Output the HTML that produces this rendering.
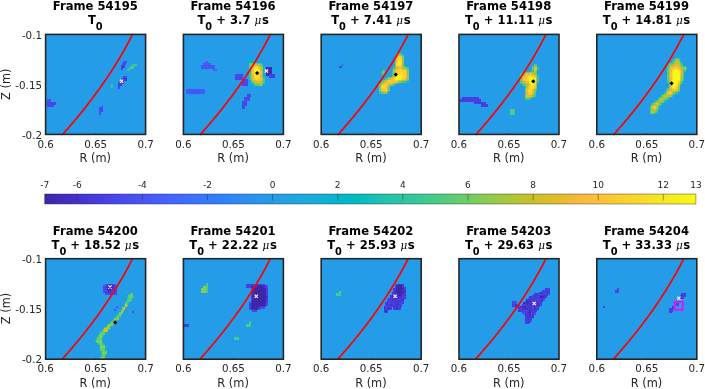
<!DOCTYPE html>
<html><head><meta charset="utf-8"><title>Frames</title>
<style>
html,body{margin:0;padding:0;background:#fff;}
body{width:705px;height:389px;overflow:hidden;}
svg{display:block;}
text{font-family:"DejaVu Sans","Liberation Sans",sans-serif;fill:#262626;text-anchor:middle;}
.t{font-weight:bold;font-size:11.6px;fill:#000;}
.k{font-size:10.3px;}
.e{text-anchor:end;}
.l{font-size:11.4px;}
.c{font-size:9px;}
.mu{font-size:10.4px;font-family:"DejaVu Serif","Liberation Serif",serif;font-style:italic;font-weight:normal;}
</style></head><body>
<svg width="705" height="389" viewBox="0 0 705 389">
<defs><linearGradient id="cb" x1="0" x2="1" y1="0" y2="0">
<stop offset="0.0000" stop-color="#3e26a8"/>
<stop offset="0.0159" stop-color="#402ab4"/>
<stop offset="0.0317" stop-color="#422ec0"/>
<stop offset="0.0476" stop-color="#4332cb"/>
<stop offset="0.0635" stop-color="#4537d5"/>
<stop offset="0.0794" stop-color="#463cde"/>
<stop offset="0.0952" stop-color="#4741e5"/>
<stop offset="0.1111" stop-color="#4747eb"/>
<stop offset="0.1270" stop-color="#484df0"/>
<stop offset="0.1429" stop-color="#4852f4"/>
<stop offset="0.1587" stop-color="#4758f8"/>
<stop offset="0.1746" stop-color="#465efb"/>
<stop offset="0.1905" stop-color="#4563fd"/>
<stop offset="0.2063" stop-color="#4269fe"/>
<stop offset="0.2222" stop-color="#3e6fff"/>
<stop offset="0.2381" stop-color="#3875fe"/>
<stop offset="0.2540" stop-color="#327cfc"/>
<stop offset="0.2698" stop-color="#2f81fa"/>
<stop offset="0.2857" stop-color="#2e87f7"/>
<stop offset="0.3016" stop-color="#2d8cf3"/>
<stop offset="0.3175" stop-color="#2b91ef"/>
<stop offset="0.3333" stop-color="#2797eb"/>
<stop offset="0.3492" stop-color="#259be8"/>
<stop offset="0.3651" stop-color="#23a0e5"/>
<stop offset="0.3810" stop-color="#20a5e3"/>
<stop offset="0.3968" stop-color="#1ca9df"/>
<stop offset="0.4127" stop-color="#18addb"/>
<stop offset="0.4286" stop-color="#12b1d6"/>
<stop offset="0.4444" stop-color="#08b5d0"/>
<stop offset="0.4603" stop-color="#01b8ca"/>
<stop offset="0.4762" stop-color="#02bac3"/>
<stop offset="0.4921" stop-color="#0bbdbd"/>
<stop offset="0.5079" stop-color="#19bfb6"/>
<stop offset="0.5238" stop-color="#24c1ae"/>
<stop offset="0.5397" stop-color="#2cc4a7"/>
<stop offset="0.5556" stop-color="#31c69f"/>
<stop offset="0.5714" stop-color="#37c897"/>
<stop offset="0.5873" stop-color="#3fca8e"/>
<stop offset="0.6032" stop-color="#4acb84"/>
<stop offset="0.6190" stop-color="#57cc7a"/>
<stop offset="0.6349" stop-color="#64cd6f"/>
<stop offset="0.6508" stop-color="#72cd64"/>
<stop offset="0.6667" stop-color="#81cc59"/>
<stop offset="0.6825" stop-color="#8fcb4e"/>
<stop offset="0.6984" stop-color="#9dc943"/>
<stop offset="0.7143" stop-color="#abc739"/>
<stop offset="0.7302" stop-color="#b9c431"/>
<stop offset="0.7460" stop-color="#c5c22a"/>
<stop offset="0.7619" stop-color="#d1bf27"/>
<stop offset="0.7778" stop-color="#dcbd29"/>
<stop offset="0.7937" stop-color="#e6bb2d"/>
<stop offset="0.8095" stop-color="#f0ba36"/>
<stop offset="0.8254" stop-color="#f8ba3d"/>
<stop offset="0.8413" stop-color="#febe3c"/>
<stop offset="0.8571" stop-color="#fec338"/>
<stop offset="0.8730" stop-color="#fec934"/>
<stop offset="0.8889" stop-color="#fccf30"/>
<stop offset="0.9048" stop-color="#fad62d"/>
<stop offset="0.9206" stop-color="#f7dc2a"/>
<stop offset="0.9365" stop-color="#f5e327"/>
<stop offset="0.9524" stop-color="#f5e924"/>
<stop offset="0.9683" stop-color="#f6ef20"/>
<stop offset="0.9841" stop-color="#f7f51b"/>
<stop offset="1.0000" stop-color="#f9fb15"/>
</linearGradient><filter id="bl" x="-5%" y="-5%" width="110%" height="110%"><feGaussianBlur stdDeviation="0.35"/></filter>
</defs>
<rect width="705" height="389" fill="#fff"/>
<text x="95.30000000000001" y="9.899999999999999" class="t">Frame 54195</text>
<text x="95.30000000000001" y="23.9" class="t">T<tspan dy="6" font-size="9.8">0</tspan></text>
<g>
<rect x="45.6" y="34.4" width="100" height="100.0" fill="#259ce7"/>
<g filter="url(#bl)" shape-rendering="crispEdges">
<rect x="122.8" y="61.4" width="4.2" height="1.9" fill="#4850f2"/>
<rect x="121.6" y="63.3" width="4.1" height="2.0" fill="#4747eb"/>
<rect x="120.6" y="65.3" width="4.1" height="3.1" fill="#463ee1"/>
<rect x="120.6" y="68.4" width="2.2" height="2.0" fill="#4747eb"/>
<rect x="123" y="76" width="4" height="2.1" fill="#4747eb"/>
<rect x="122" y="78.1" width="5" height="2.6" fill="#4536d3"/>
<rect x="119.5" y="80.7" width="4.5" height="3.1" fill="#4536d3"/>
<rect x="118" y="82.3" width="3.6" height="4.1" fill="#463ee1"/>
<rect x="118" y="86.4" width="2" height="2.5" fill="#4747eb"/>
<rect x="46.5" y="99.2" width="4.5" height="2.4" fill="#4850f2"/>
<rect x="46.5" y="101.6" width="9.5" height="2.9" fill="#4747eb"/>
<rect x="46.5" y="104.5" width="7.2" height="2.5" fill="#4747eb"/>
<rect x="101.6" y="104.5" width="1.8" height="2.5" fill="#4850f2"/>
<rect x="99.3" y="107" width="3.7" height="5" fill="#4747eb"/>
<rect x="99.3" y="112" width="1.7" height="2.6" fill="#4850f2"/>
<rect x="113.4" y="79" width="2.0" height="1.7" fill="#02bac4"/>
<rect x="132" y="79" width="4.5" height="1.7" fill="#02bac4"/>
<rect x="127.3" y="69.4" width="3.0" height="1.6" fill="#2fc5a2"/>
<rect x="110.8" y="84.3" width="2.1" height="4.1" fill="#2fc5a2"/>
<rect x="132.4" y="64.0" width="4.1" height="1.8" fill="#39c895"/>
<rect x="128.3" y="67.6" width="6.1" height="1.8" fill="#39c895"/>
<rect x="130.3" y="65.8" width="4.1" height="1.8" fill="#48cb86"/>
</g>
</g>
<path d="M132.64 34.20 L130.67 38.08 L128.63 41.95 L126.54 45.83 L124.38 49.71 L122.17 53.58 L119.90 57.46 L117.57 61.34 L115.18 65.22 L112.74 69.09 L110.23 72.97 L107.66 76.85 L105.04 80.72 L102.36 84.60 L99.61 88.48 L96.81 92.35 L93.95 96.23 L91.03 100.11 L88.06 103.98 L85.02 107.86 L81.92 111.74 L78.77 115.62 L75.56 119.49 L72.28 123.37 L68.95 127.25 L65.56 131.12 L62.11 135.00" fill="none" stroke="#ff0000" stroke-width="1.7"/>
<path d="M120.0 79.7L123.19999999999999 82.89999999999999M120.0 82.89999999999999L123.19999999999999 79.7" stroke="#fff" stroke-width="1.1"/>
<rect x="45.6" y="34.4" width="100" height="100.0" fill="none" stroke="#262626" stroke-width="1.6"/>
<path d="M95.6 133.9v-1.1" stroke="#262626" stroke-width="0.7" stroke-opacity="0.7"/>
<text x="45.6" y="147.9" class="k">0.6</text>
<text x="95.6" y="147.9" class="k">0.65</text>
<text x="145.6" y="147.9" class="k">0.7</text>
<text x="95.30000000000001" y="162.0" class="l">R (m)</text>
<text x="42.0" y="38.8" class="k e">-0.1</text>
<text x="42.0" y="88.80000000000001" class="k e">-0.15</text>
<text x="42.0" y="138.8" class="k e">-0.2</text>
<text transform="translate(9.6,84.19999999999999) rotate(-90)" class="l">Z (m)</text>
<text x="233.10000000000002" y="9.899999999999999" class="t">Frame 54196</text>
<text x="233.10000000000002" y="23.9" class="t">T<tspan dy="6" font-size="9.8">0</tspan><tspan dy="-6"> + 3.7 </tspan><tspan class="mu">μ</tspan><tspan dx="0.6">s</tspan></text>
<g>
<rect x="183.4" y="34.4" width="100" height="100.0" fill="#259ce7"/>
<g filter="url(#bl)" shape-rendering="crispEdges">
<rect x="265.8" y="66.5" width="6.2" height="9.2" fill="#3f29b0"/>
<rect x="269" y="73.7" width="6" height="4.1" fill="#463ee1"/>
<rect x="234.7" y="74.2" width="8.3" height="5.3" fill="#4747eb"/>
<rect x="242.2" y="79.3" width="6.2" height="6.2" fill="#4747eb"/>
<rect x="205.4" y="61.1" width="2.3" height="2.0" fill="#465ffb"/>
<rect x="203" y="63.1" width="7.8" height="2.3" fill="#4758f8"/>
<rect x="201.2" y="65.4" width="13.4" height="3.1" fill="#4758f8"/>
<rect x="213" y="68.5" width="4" height="2.3" fill="#465ffb"/>
<rect x="186.4" y="89.3" width="19.0" height="4.7" fill="#475af9"/>
<rect x="190" y="90" width="10" height="3" fill="#4853f5"/>
<rect x="246.6" y="94.3" width="3.9" height="3.1" fill="#4747eb"/>
<rect x="244.3" y="97.4" width="5.4" height="3.8" fill="#4747eb"/>
<rect x="242.3" y="101.2" width="5.1" height="4.6" fill="#4747eb"/>
<rect x="242.3" y="105.8" width="2.7" height="3.2" fill="#4747eb"/>
<rect x="246.3" y="58.7" width="7.2" height="4.2" fill="#05b6ce"/>
<rect x="253.71" y="60.96" width="1.57" height="1.56" fill="#2fc5a2"/>
<rect x="249.03" y="70.34" width="1.56" height="1.56" fill="#2fc5a2"/>
<rect x="249.03" y="73.46" width="1.56" height="1.57" fill="#2fc5a2"/>
<rect x="249.03" y="76.59" width="1.56" height="1.56" fill="#2fc5a2"/>
<rect x="263.09" y="76.59" width="1.56" height="1.56" fill="#2fc5a2"/>
<rect x="249.03" y="78.15" width="1.56" height="1.56" fill="#2fc5a2"/>
<rect x="250.59" y="81.28" width="1.56" height="1.56" fill="#2fc5a2"/>
<rect x="252.15" y="82.84" width="1.56" height="1.56" fill="#2fc5a2"/>
<rect x="253.71" y="84.4" width="1.57" height="1.56" fill="#2fc5a2"/>
<rect x="259.96" y="62.52" width="1.56" height="1.57" fill="#39c895"/>
<rect x="261.52" y="64.09" width="1.57" height="1.56" fill="#39c895"/>
<rect x="249.03" y="71.9" width="1.56" height="1.56" fill="#39c895"/>
<rect x="263.09" y="79.71" width="1.56" height="1.57" fill="#39c895"/>
<rect x="263.09" y="81.28" width="1.56" height="1.56" fill="#39c895"/>
<rect x="263.09" y="82.84" width="1.56" height="1.56" fill="#39c895"/>
<rect x="249.03" y="62.52" width="3.12" height="1.57" fill="#48cb86"/>
<rect x="256.84" y="62.52" width="3.12" height="1.57" fill="#48cb86"/>
<rect x="261.52" y="65.65" width="1.57" height="1.56" fill="#48cb86"/>
<rect x="249.03" y="67.21" width="1.56" height="1.57" fill="#48cb86"/>
<rect x="249.03" y="68.78" width="1.56" height="1.56" fill="#48cb86"/>
<rect x="249.03" y="75.03" width="1.56" height="1.56" fill="#48cb86"/>
<rect x="263.09" y="78.15" width="1.56" height="1.56" fill="#48cb86"/>
<rect x="253.71" y="82.84" width="1.57" height="1.56" fill="#48cb86"/>
<rect x="255.28" y="84.4" width="1.56" height="1.56" fill="#48cb86"/>
<rect x="261.52" y="84.4" width="1.57" height="1.56" fill="#48cb86"/>
<rect x="252.15" y="62.52" width="3.13" height="1.57" fill="#5ccc76"/>
<rect x="249.03" y="64.09" width="1.56" height="1.56" fill="#5ccc76"/>
<rect x="259.96" y="64.09" width="1.56" height="1.56" fill="#5ccc76"/>
<rect x="250.59" y="79.71" width="1.56" height="1.57" fill="#5ccc76"/>
<rect x="252.15" y="81.28" width="1.56" height="1.56" fill="#5ccc76"/>
<rect x="256.84" y="84.4" width="3.12" height="1.56" fill="#5ccc76"/>
<rect x="255.28" y="62.52" width="1.56" height="1.57" fill="#71cd64"/>
<rect x="249.03" y="65.65" width="1.56" height="1.56" fill="#71cd64"/>
<rect x="261.52" y="68.78" width="1.57" height="1.56" fill="#71cd64"/>
<rect x="261.52" y="73.46" width="1.57" height="1.57" fill="#71cd64"/>
<rect x="261.52" y="75.03" width="1.57" height="1.56" fill="#71cd64"/>
<rect x="261.52" y="76.59" width="1.57" height="1.56" fill="#71cd64"/>
<rect x="261.52" y="70.34" width="1.57" height="1.56" fill="#88cb53"/>
<rect x="250.59" y="78.15" width="1.56" height="1.56" fill="#88cb53"/>
<rect x="261.52" y="81.28" width="1.57" height="1.56" fill="#88cb53"/>
<rect x="259.96" y="84.4" width="1.56" height="1.56" fill="#88cb53"/>
<rect x="250.59" y="64.09" width="1.56" height="1.56" fill="#9fc942"/>
<rect x="258.4" y="64.09" width="1.56" height="1.56" fill="#9fc942"/>
<rect x="259.96" y="65.65" width="1.56" height="1.56" fill="#9fc942"/>
<rect x="261.52" y="67.21" width="1.57" height="1.57" fill="#9fc942"/>
<rect x="261.52" y="71.9" width="1.57" height="1.56" fill="#9fc942"/>
<rect x="250.59" y="73.46" width="1.56" height="1.57" fill="#9fc942"/>
<rect x="250.59" y="76.59" width="1.56" height="1.56" fill="#9fc942"/>
<rect x="261.52" y="78.15" width="1.57" height="1.56" fill="#9fc942"/>
<rect x="253.71" y="81.28" width="1.57" height="1.56" fill="#9fc942"/>
<rect x="255.28" y="82.84" width="1.56" height="1.56" fill="#9fc942"/>
<rect x="259.96" y="82.84" width="3.13" height="1.56" fill="#9fc942"/>
<rect x="252.15" y="64.09" width="1.56" height="1.56" fill="#b4c533"/>
<rect x="256.84" y="64.09" width="1.56" height="1.56" fill="#b4c533"/>
<rect x="250.59" y="65.65" width="1.56" height="1.56" fill="#b4c533"/>
<rect x="259.96" y="67.21" width="1.56" height="1.57" fill="#b4c533"/>
<rect x="250.59" y="68.78" width="1.56" height="1.56" fill="#b4c533"/>
<rect x="250.59" y="70.34" width="1.56" height="1.56" fill="#b4c533"/>
<rect x="250.59" y="71.9" width="1.56" height="1.56" fill="#b4c533"/>
<rect x="250.59" y="75.03" width="1.56" height="1.56" fill="#b4c533"/>
<rect x="252.15" y="79.71" width="1.56" height="1.57" fill="#b4c533"/>
<rect x="261.52" y="79.71" width="1.57" height="1.57" fill="#b4c533"/>
<rect x="256.84" y="82.84" width="1.56" height="1.56" fill="#b4c533"/>
<rect x="253.71" y="64.09" width="3.13" height="1.56" fill="#c8c129"/>
<rect x="253.71" y="79.71" width="1.57" height="1.57" fill="#c8c129"/>
<rect x="255.28" y="81.28" width="1.56" height="1.56" fill="#c8c129"/>
<rect x="258.4" y="82.84" width="1.56" height="1.56" fill="#c8c129"/>
<rect x="250.59" y="67.21" width="1.56" height="1.57" fill="#dabd28"/>
<rect x="259.96" y="68.78" width="1.56" height="1.56" fill="#dabd28"/>
<rect x="252.15" y="75.03" width="1.56" height="1.56" fill="#dabd28"/>
<rect x="259.96" y="75.03" width="1.56" height="1.56" fill="#dabd28"/>
<rect x="256.84" y="81.28" width="4.68" height="1.56" fill="#dabd28"/>
<rect x="258.4" y="65.65" width="1.56" height="1.56" fill="#eaba31"/>
<rect x="259.96" y="70.34" width="1.56" height="1.56" fill="#eaba31"/>
<rect x="259.96" y="76.59" width="1.56" height="1.56" fill="#eaba31"/>
<rect x="252.15" y="78.15" width="1.56" height="1.56" fill="#eaba31"/>
<rect x="259.96" y="79.71" width="1.56" height="1.57" fill="#eaba31"/>
<rect x="252.15" y="65.65" width="3.13" height="1.56" fill="#f8ba3d"/>
<rect x="252.15" y="67.21" width="1.56" height="1.57" fill="#f8ba3d"/>
<rect x="252.15" y="70.34" width="1.56" height="1.56" fill="#f8ba3d"/>
<rect x="259.96" y="71.9" width="1.56" height="1.56" fill="#f8ba3d"/>
<rect x="259.96" y="73.46" width="1.56" height="1.57" fill="#f8ba3d"/>
<rect x="252.15" y="76.59" width="1.56" height="1.56" fill="#f8ba3d"/>
<rect x="253.71" y="78.15" width="1.57" height="1.56" fill="#f8ba3d"/>
<rect x="259.96" y="78.15" width="1.56" height="1.56" fill="#f8ba3d"/>
<rect x="255.28" y="79.71" width="1.56" height="1.57" fill="#f8ba3d"/>
<rect x="258.4" y="79.71" width="1.56" height="1.57" fill="#f8ba3d"/>
<rect x="255.28" y="65.65" width="3.12" height="1.56" fill="#fec13a"/>
<rect x="258.4" y="67.21" width="1.56" height="1.57" fill="#fec13a"/>
<rect x="252.15" y="68.78" width="1.56" height="1.56" fill="#fec13a"/>
<rect x="256.84" y="79.71" width="1.56" height="1.57" fill="#fec13a"/>
<rect x="252.15" y="71.9" width="1.56" height="1.56" fill="#feca33"/>
<rect x="252.15" y="73.46" width="1.56" height="1.57" fill="#feca33"/>
<rect x="258.4" y="78.15" width="1.56" height="1.56" fill="#feca33"/>
<rect x="253.71" y="67.21" width="1.57" height="1.57" fill="#fad42e"/>
<rect x="253.71" y="73.46" width="1.57" height="1.57" fill="#fad42e"/>
<rect x="258.4" y="73.46" width="1.56" height="1.57" fill="#fad42e"/>
<rect x="258.4" y="75.03" width="1.56" height="1.56" fill="#fad42e"/>
<rect x="253.71" y="76.59" width="1.57" height="1.56" fill="#fad42e"/>
<rect x="255.28" y="78.15" width="1.56" height="1.56" fill="#fad42e"/>
<rect x="255.28" y="67.21" width="1.56" height="1.57" fill="#f6de29"/>
<rect x="253.71" y="71.9" width="1.57" height="1.56" fill="#f6de29"/>
<rect x="258.4" y="71.9" width="1.56" height="1.56" fill="#f6de29"/>
<rect x="255.28" y="76.59" width="4.68" height="1.56" fill="#f6de29"/>
<rect x="256.84" y="78.15" width="1.56" height="1.56" fill="#f6de29"/>
<rect x="253.71" y="68.78" width="1.57" height="1.56" fill="#f5e825"/>
<rect x="258.4" y="68.78" width="1.56" height="1.56" fill="#f5e825"/>
<rect x="253.71" y="70.34" width="1.57" height="1.56" fill="#f5e825"/>
<rect x="258.4" y="70.34" width="1.56" height="1.56" fill="#f5e825"/>
<rect x="253.71" y="75.03" width="3.13" height="1.56" fill="#f5e825"/>
<rect x="256.84" y="67.21" width="1.56" height="1.57" fill="#f6f21e"/>
<rect x="256.84" y="75.03" width="1.56" height="1.56" fill="#f6f21e"/>
<rect x="255.28" y="68.78" width="3.12" height="1.56" fill="#f9fb15"/>
<rect x="255.28" y="70.34" width="3.12" height="1.56" fill="#f9fb15"/>
<rect x="255.28" y="71.9" width="3.12" height="1.56" fill="#f9fb15"/>
<rect x="255.28" y="73.46" width="3.12" height="1.57" fill="#f9fb15"/>
</g>
</g>
<path d="M270.44 34.20 L268.47 38.08 L266.43 41.95 L264.34 45.83 L262.18 49.71 L259.97 53.58 L257.70 57.46 L255.37 61.34 L252.98 65.22 L250.54 69.09 L248.03 72.97 L245.46 76.85 L242.84 80.72 L240.16 84.60 L237.41 88.48 L234.61 92.35 L231.75 96.23 L228.83 100.11 L225.86 103.98 L222.82 107.86 L219.72 111.74 L216.57 115.62 L213.36 119.49 L210.08 123.37 L206.75 127.25 L203.36 131.12 L199.91 135.00" fill="none" stroke="#ff0000" stroke-width="1.7"/>
<path d="M257.1 71.0L259.20000000000005 73.1L257.1 75.19999999999999L255.00000000000003 73.1Z" fill="#000"/>
<path d="M264.79999999999995 69.5L268.0 72.69999999999999M264.79999999999995 72.69999999999999L268.0 69.5" stroke="#fff" stroke-width="1.1"/>
<rect x="183.4" y="34.4" width="100" height="100.0" fill="none" stroke="#262626" stroke-width="1.6"/>
<path d="M233.4 133.9v-1.1" stroke="#262626" stroke-width="0.7" stroke-opacity="0.7"/>
<text x="183.4" y="147.9" class="k">0.6</text>
<text x="233.4" y="147.9" class="k">0.65</text>
<text x="283.4" y="147.9" class="k">0.7</text>
<text x="233.10000000000002" y="162.0" class="l">R (m)</text>
<text x="370.9" y="9.899999999999999" class="t">Frame 54197</text>
<text x="370.9" y="23.9" class="t">T<tspan dy="6" font-size="9.8">0</tspan><tspan dy="-6"> + 7.41 </tspan><tspan class="mu">μ</tspan><tspan dx="0.6">s</tspan></text>
<g>
<rect x="321.2" y="34.4" width="100" height="100.0" fill="#259ce7"/>
<g filter="url(#bl)" shape-rendering="crispEdges">
<rect x="341.6" y="64" width="1.8" height="1.6" fill="#4747eb"/>
<rect x="339.3" y="65.6" width="2.3" height="2.0" fill="#4747eb"/>
<rect x="396.2" y="53.15" width="1.56" height="1.56" fill="#2fc5a2"/>
<rect x="394.64" y="56.27" width="1.56" height="1.57" fill="#2fc5a2"/>
<rect x="404.01" y="65.65" width="1.56" height="1.56" fill="#2fc5a2"/>
<rect x="383.7" y="70.34" width="1.56" height="1.56" fill="#2fc5a2"/>
<rect x="391.51" y="70.34" width="1.56" height="1.56" fill="#2fc5a2"/>
<rect x="380.57" y="71.9" width="1.57" height="1.56" fill="#2fc5a2"/>
<rect x="391.51" y="71.9" width="1.56" height="1.56" fill="#2fc5a2"/>
<rect x="391.51" y="73.46" width="1.56" height="1.57" fill="#2fc5a2"/>
<rect x="402.45" y="81.28" width="1.56" height="1.56" fill="#2fc5a2"/>
<rect x="405.57" y="81.28" width="1.57" height="1.56" fill="#2fc5a2"/>
<rect x="393.07" y="84.4" width="1.57" height="1.56" fill="#2fc5a2"/>
<rect x="388.39" y="90.65" width="1.56" height="1.56" fill="#2fc5a2"/>
<rect x="379.01" y="92.21" width="1.56" height="1.57" fill="#2fc5a2"/>
<rect x="400.89" y="53.15" width="1.56" height="1.56" fill="#39c895"/>
<rect x="394.64" y="57.84" width="1.56" height="1.56" fill="#39c895"/>
<rect x="394.64" y="59.4" width="1.56" height="1.56" fill="#39c895"/>
<rect x="393.07" y="67.21" width="1.57" height="1.57" fill="#39c895"/>
<rect x="407.14" y="67.21" width="1.56" height="1.57" fill="#39c895"/>
<rect x="391.51" y="75.03" width="1.56" height="1.56" fill="#39c895"/>
<rect x="385.26" y="78.15" width="1.56" height="1.56" fill="#39c895"/>
<rect x="382.14" y="79.71" width="1.56" height="1.57" fill="#39c895"/>
<rect x="407.14" y="79.71" width="1.56" height="1.57" fill="#39c895"/>
<rect x="404.01" y="81.28" width="1.56" height="1.56" fill="#39c895"/>
<rect x="399.32" y="53.15" width="1.57" height="1.56" fill="#48cb86"/>
<rect x="402.45" y="54.71" width="1.56" height="1.56" fill="#48cb86"/>
<rect x="382.14" y="70.34" width="1.56" height="1.56" fill="#48cb86"/>
<rect x="383.7" y="71.9" width="1.56" height="1.56" fill="#48cb86"/>
<rect x="382.14" y="73.46" width="3.12" height="1.57" fill="#48cb86"/>
<rect x="388.39" y="76.59" width="1.56" height="1.56" fill="#48cb86"/>
<rect x="380.57" y="81.28" width="1.57" height="1.56" fill="#48cb86"/>
<rect x="379.01" y="82.84" width="1.56" height="1.56" fill="#48cb86"/>
<rect x="396.2" y="82.84" width="1.56" height="1.56" fill="#48cb86"/>
<rect x="379.01" y="90.65" width="1.56" height="1.56" fill="#48cb86"/>
<rect x="380.57" y="92.21" width="1.57" height="1.57" fill="#48cb86"/>
<rect x="397.76" y="53.15" width="1.56" height="1.56" fill="#5ccc76"/>
<rect x="394.64" y="60.96" width="1.56" height="1.56" fill="#5ccc76"/>
<rect x="407.14" y="68.78" width="1.56" height="1.56" fill="#5ccc76"/>
<rect x="400.89" y="81.28" width="1.56" height="1.56" fill="#5ccc76"/>
<rect x="391.51" y="84.4" width="1.56" height="1.56" fill="#5ccc76"/>
<rect x="388.39" y="85.96" width="1.56" height="1.57" fill="#5ccc76"/>
<rect x="388.39" y="87.53" width="1.56" height="1.56" fill="#5ccc76"/>
<rect x="388.39" y="89.09" width="1.56" height="1.56" fill="#5ccc76"/>
<rect x="382.14" y="92.21" width="1.56" height="1.57" fill="#5ccc76"/>
<rect x="386.82" y="92.21" width="1.57" height="1.57" fill="#5ccc76"/>
<rect x="402.45" y="56.27" width="1.56" height="1.57" fill="#71cd64"/>
<rect x="394.64" y="65.65" width="1.56" height="1.56" fill="#71cd64"/>
<rect x="402.45" y="65.65" width="1.56" height="1.56" fill="#71cd64"/>
<rect x="405.57" y="67.21" width="1.57" height="1.57" fill="#71cd64"/>
<rect x="407.14" y="70.34" width="1.56" height="1.56" fill="#71cd64"/>
<rect x="382.14" y="71.9" width="1.56" height="1.56" fill="#71cd64"/>
<rect x="407.14" y="73.46" width="1.56" height="1.57" fill="#71cd64"/>
<rect x="386.82" y="78.15" width="1.57" height="1.56" fill="#71cd64"/>
<rect x="382.14" y="81.28" width="1.56" height="1.56" fill="#71cd64"/>
<rect x="379.01" y="84.4" width="1.56" height="1.56" fill="#71cd64"/>
<rect x="379.01" y="85.96" width="1.56" height="1.57" fill="#71cd64"/>
<rect x="385.26" y="92.21" width="1.56" height="1.57" fill="#71cd64"/>
<rect x="396.2" y="54.71" width="1.56" height="1.56" fill="#88cb53"/>
<rect x="402.45" y="57.84" width="1.56" height="1.56" fill="#88cb53"/>
<rect x="402.45" y="62.52" width="1.56" height="1.57" fill="#88cb53"/>
<rect x="402.45" y="64.09" width="1.56" height="1.56" fill="#88cb53"/>
<rect x="394.64" y="67.21" width="1.56" height="1.57" fill="#88cb53"/>
<rect x="404.01" y="67.21" width="1.56" height="1.57" fill="#88cb53"/>
<rect x="393.07" y="68.78" width="1.57" height="1.56" fill="#88cb53"/>
<rect x="389.95" y="76.59" width="1.56" height="1.56" fill="#88cb53"/>
<rect x="407.14" y="78.15" width="1.56" height="1.56" fill="#88cb53"/>
<rect x="383.7" y="79.71" width="1.56" height="1.57" fill="#88cb53"/>
<rect x="405.57" y="79.71" width="1.57" height="1.57" fill="#88cb53"/>
<rect x="397.76" y="81.28" width="3.13" height="1.56" fill="#88cb53"/>
<rect x="380.57" y="82.84" width="1.57" height="1.56" fill="#88cb53"/>
<rect x="394.64" y="82.84" width="1.56" height="1.56" fill="#88cb53"/>
<rect x="379.01" y="87.53" width="1.56" height="1.56" fill="#88cb53"/>
<rect x="379.01" y="89.09" width="1.56" height="1.56" fill="#88cb53"/>
<rect x="400.89" y="54.71" width="1.56" height="1.56" fill="#9fc942"/>
<rect x="402.45" y="59.4" width="1.56" height="1.56" fill="#9fc942"/>
<rect x="402.45" y="60.96" width="1.56" height="1.56" fill="#9fc942"/>
<rect x="394.64" y="62.52" width="1.56" height="1.57" fill="#9fc942"/>
<rect x="394.64" y="64.09" width="1.56" height="1.56" fill="#9fc942"/>
<rect x="402.45" y="67.21" width="1.56" height="1.57" fill="#9fc942"/>
<rect x="393.07" y="70.34" width="1.57" height="1.56" fill="#9fc942"/>
<rect x="393.07" y="71.9" width="1.57" height="1.56" fill="#9fc942"/>
<rect x="407.14" y="71.9" width="1.56" height="1.56" fill="#9fc942"/>
<rect x="407.14" y="75.03" width="1.56" height="1.56" fill="#9fc942"/>
<rect x="391.51" y="76.59" width="1.56" height="1.56" fill="#9fc942"/>
<rect x="407.14" y="76.59" width="1.56" height="1.56" fill="#9fc942"/>
<rect x="404.01" y="79.71" width="1.56" height="1.57" fill="#9fc942"/>
<rect x="389.95" y="84.4" width="1.56" height="1.56" fill="#9fc942"/>
<rect x="386.82" y="90.65" width="1.57" height="1.56" fill="#9fc942"/>
<rect x="383.7" y="92.21" width="1.56" height="1.57" fill="#9fc942"/>
<rect x="397.76" y="54.71" width="3.13" height="1.56" fill="#b4c533"/>
<rect x="393.07" y="73.46" width="1.57" height="1.57" fill="#b4c533"/>
<rect x="388.39" y="78.15" width="1.56" height="1.56" fill="#b4c533"/>
<rect x="393.07" y="82.84" width="1.57" height="1.56" fill="#b4c533"/>
<rect x="388.39" y="84.4" width="1.56" height="1.56" fill="#b4c533"/>
<rect x="394.64" y="68.78" width="1.56" height="1.56" fill="#c8c129"/>
<rect x="405.57" y="68.78" width="1.57" height="1.56" fill="#c8c129"/>
<rect x="393.07" y="75.03" width="1.57" height="1.56" fill="#c8c129"/>
<rect x="385.26" y="79.71" width="1.56" height="1.57" fill="#c8c129"/>
<rect x="402.45" y="79.71" width="1.56" height="1.57" fill="#c8c129"/>
<rect x="383.7" y="81.28" width="1.56" height="1.56" fill="#c8c129"/>
<rect x="386.82" y="89.09" width="1.57" height="1.56" fill="#c8c129"/>
<rect x="380.57" y="90.65" width="1.57" height="1.56" fill="#c8c129"/>
<rect x="396.2" y="67.21" width="1.56" height="1.57" fill="#dabd28"/>
<rect x="405.57" y="78.15" width="1.57" height="1.56" fill="#dabd28"/>
<rect x="400.89" y="79.71" width="1.56" height="1.57" fill="#dabd28"/>
<rect x="385.26" y="81.28" width="1.56" height="1.56" fill="#dabd28"/>
<rect x="382.14" y="82.84" width="1.56" height="1.56" fill="#dabd28"/>
<rect x="380.57" y="84.4" width="1.57" height="1.56" fill="#dabd28"/>
<rect x="396.2" y="56.27" width="1.56" height="1.57" fill="#eaba31"/>
<rect x="400.89" y="56.27" width="1.56" height="1.57" fill="#eaba31"/>
<rect x="396.2" y="57.84" width="1.56" height="1.56" fill="#eaba31"/>
<rect x="396.2" y="65.65" width="1.56" height="1.56" fill="#eaba31"/>
<rect x="400.89" y="65.65" width="1.56" height="1.56" fill="#eaba31"/>
<rect x="402.45" y="68.78" width="3.12" height="1.56" fill="#eaba31"/>
<rect x="394.64" y="70.34" width="1.56" height="1.56" fill="#eaba31"/>
<rect x="405.57" y="70.34" width="1.57" height="1.56" fill="#eaba31"/>
<rect x="405.57" y="71.9" width="1.57" height="1.56" fill="#eaba31"/>
<rect x="405.57" y="75.03" width="1.57" height="1.56" fill="#eaba31"/>
<rect x="389.95" y="78.15" width="1.56" height="1.56" fill="#eaba31"/>
<rect x="399.32" y="79.71" width="1.57" height="1.57" fill="#eaba31"/>
<rect x="396.2" y="81.28" width="1.56" height="1.56" fill="#eaba31"/>
<rect x="386.82" y="87.53" width="1.57" height="1.56" fill="#eaba31"/>
<rect x="382.14" y="90.65" width="1.56" height="1.56" fill="#eaba31"/>
<rect x="385.26" y="90.65" width="1.56" height="1.56" fill="#eaba31"/>
<rect x="397.76" y="56.27" width="1.56" height="1.57" fill="#f8ba3d"/>
<rect x="396.2" y="59.4" width="1.56" height="1.56" fill="#f8ba3d"/>
<rect x="397.76" y="67.21" width="4.69" height="1.57" fill="#f8ba3d"/>
<rect x="396.2" y="68.78" width="1.56" height="1.56" fill="#f8ba3d"/>
<rect x="394.64" y="73.46" width="1.56" height="1.57" fill="#f8ba3d"/>
<rect x="405.57" y="73.46" width="1.57" height="1.57" fill="#f8ba3d"/>
<rect x="405.57" y="76.59" width="1.57" height="1.56" fill="#f8ba3d"/>
<rect x="404.01" y="78.15" width="1.56" height="1.56" fill="#f8ba3d"/>
<rect x="386.82" y="81.28" width="1.57" height="1.56" fill="#f8ba3d"/>
<rect x="393.07" y="81.28" width="3.13" height="1.56" fill="#f8ba3d"/>
<rect x="383.7" y="82.84" width="1.56" height="1.56" fill="#f8ba3d"/>
<rect x="389.95" y="82.84" width="3.12" height="1.56" fill="#f8ba3d"/>
<rect x="386.82" y="85.96" width="1.57" height="1.57" fill="#f8ba3d"/>
<rect x="380.57" y="87.53" width="1.57" height="1.56" fill="#f8ba3d"/>
<rect x="380.57" y="89.09" width="1.57" height="1.56" fill="#f8ba3d"/>
<rect x="383.7" y="90.65" width="1.56" height="1.56" fill="#f8ba3d"/>
<rect x="396.2" y="60.96" width="1.56" height="1.56" fill="#fec13a"/>
<rect x="399.32" y="65.65" width="1.57" height="1.56" fill="#fec13a"/>
<rect x="394.64" y="71.9" width="3.12" height="1.56" fill="#fec13a"/>
<rect x="393.07" y="76.59" width="1.57" height="1.56" fill="#fec13a"/>
<rect x="391.51" y="78.15" width="1.56" height="1.56" fill="#fec13a"/>
<rect x="386.82" y="79.71" width="1.57" height="1.57" fill="#fec13a"/>
<rect x="388.39" y="81.28" width="1.56" height="1.56" fill="#fec13a"/>
<rect x="385.26" y="82.84" width="4.69" height="1.56" fill="#fec13a"/>
<rect x="382.14" y="84.4" width="1.56" height="1.56" fill="#fec13a"/>
<rect x="386.82" y="84.4" width="1.57" height="1.56" fill="#fec13a"/>
<rect x="380.57" y="85.96" width="1.57" height="1.57" fill="#fec13a"/>
<rect x="385.26" y="85.96" width="1.56" height="1.57" fill="#fec13a"/>
<rect x="385.26" y="87.53" width="1.56" height="1.56" fill="#fec13a"/>
<rect x="382.14" y="89.09" width="3.12" height="1.56" fill="#fec13a"/>
<rect x="399.32" y="56.27" width="1.57" height="1.57" fill="#feca33"/>
<rect x="400.89" y="57.84" width="1.56" height="1.56" fill="#feca33"/>
<rect x="400.89" y="62.52" width="1.56" height="1.57" fill="#feca33"/>
<rect x="400.89" y="64.09" width="1.56" height="1.56" fill="#feca33"/>
<rect x="397.76" y="65.65" width="1.56" height="1.56" fill="#feca33"/>
<rect x="397.76" y="68.78" width="4.69" height="1.56" fill="#feca33"/>
<rect x="397.76" y="70.34" width="1.56" height="1.56" fill="#feca33"/>
<rect x="400.89" y="70.34" width="3.12" height="1.56" fill="#feca33"/>
<rect x="396.2" y="73.46" width="1.56" height="1.57" fill="#feca33"/>
<rect x="394.64" y="75.03" width="1.56" height="1.56" fill="#feca33"/>
<rect x="404.01" y="76.59" width="1.56" height="1.56" fill="#feca33"/>
<rect x="393.07" y="78.15" width="1.57" height="1.56" fill="#feca33"/>
<rect x="388.39" y="79.71" width="3.12" height="1.57" fill="#feca33"/>
<rect x="397.76" y="79.71" width="1.56" height="1.57" fill="#feca33"/>
<rect x="389.95" y="81.28" width="3.12" height="1.56" fill="#feca33"/>
<rect x="382.14" y="87.53" width="1.56" height="1.56" fill="#feca33"/>
<rect x="397.76" y="57.84" width="1.56" height="1.56" fill="#fad42e"/>
<rect x="400.89" y="60.96" width="1.56" height="1.56" fill="#fad42e"/>
<rect x="396.2" y="62.52" width="1.56" height="1.57" fill="#fad42e"/>
<rect x="396.2" y="70.34" width="1.56" height="1.56" fill="#fad42e"/>
<rect x="399.32" y="70.34" width="1.57" height="1.56" fill="#fad42e"/>
<rect x="404.01" y="70.34" width="1.56" height="1.56" fill="#fad42e"/>
<rect x="397.76" y="71.9" width="1.56" height="1.56" fill="#fad42e"/>
<rect x="402.45" y="71.9" width="3.12" height="1.56" fill="#fad42e"/>
<rect x="399.32" y="73.46" width="1.57" height="1.57" fill="#fad42e"/>
<rect x="404.01" y="73.46" width="1.56" height="1.57" fill="#fad42e"/>
<rect x="404.01" y="75.03" width="1.56" height="1.56" fill="#fad42e"/>
<rect x="400.89" y="78.15" width="3.12" height="1.56" fill="#fad42e"/>
<rect x="391.51" y="79.71" width="6.25" height="1.57" fill="#fad42e"/>
<rect x="383.7" y="84.4" width="3.12" height="1.56" fill="#fad42e"/>
<rect x="383.7" y="87.53" width="1.56" height="1.56" fill="#fad42e"/>
<rect x="385.26" y="89.09" width="1.56" height="1.56" fill="#fad42e"/>
<rect x="399.32" y="57.84" width="1.57" height="1.56" fill="#f6de29"/>
<rect x="399.32" y="59.4" width="3.13" height="1.56" fill="#f6de29"/>
<rect x="396.2" y="64.09" width="1.56" height="1.56" fill="#f6de29"/>
<rect x="399.32" y="64.09" width="1.57" height="1.56" fill="#f6de29"/>
<rect x="399.32" y="71.9" width="1.57" height="1.56" fill="#f6de29"/>
<rect x="397.76" y="73.46" width="1.56" height="1.57" fill="#f6de29"/>
<rect x="402.45" y="73.46" width="1.56" height="1.57" fill="#f6de29"/>
<rect x="396.2" y="75.03" width="1.56" height="1.56" fill="#f6de29"/>
<rect x="402.45" y="75.03" width="1.56" height="1.56" fill="#f6de29"/>
<rect x="402.45" y="76.59" width="1.56" height="1.56" fill="#f6de29"/>
<rect x="383.7" y="85.96" width="1.56" height="1.57" fill="#f6de29"/>
<rect x="397.76" y="59.4" width="1.56" height="1.56" fill="#f5e825"/>
<rect x="399.32" y="60.96" width="1.57" height="1.56" fill="#f5e825"/>
<rect x="400.89" y="71.9" width="1.56" height="1.56" fill="#f5e825"/>
<rect x="400.89" y="73.46" width="1.56" height="1.57" fill="#f5e825"/>
<rect x="400.89" y="75.03" width="1.56" height="1.56" fill="#f5e825"/>
<rect x="394.64" y="76.59" width="1.56" height="1.56" fill="#f5e825"/>
<rect x="400.89" y="76.59" width="1.56" height="1.56" fill="#f5e825"/>
<rect x="394.64" y="78.15" width="1.56" height="1.56" fill="#f5e825"/>
<rect x="399.32" y="78.15" width="1.57" height="1.56" fill="#f5e825"/>
<rect x="382.14" y="85.96" width="1.56" height="1.57" fill="#f5e825"/>
<rect x="399.32" y="62.52" width="1.57" height="1.57" fill="#f6f21e"/>
<rect x="399.32" y="75.03" width="1.57" height="1.56" fill="#f6f21e"/>
<rect x="397.76" y="60.96" width="1.56" height="1.56" fill="#f9fb15"/>
<rect x="397.76" y="62.52" width="1.56" height="1.57" fill="#f9fb15"/>
<rect x="397.76" y="64.09" width="1.56" height="1.56" fill="#f9fb15"/>
<rect x="397.76" y="75.03" width="1.56" height="1.56" fill="#f9fb15"/>
<rect x="396.2" y="76.59" width="4.69" height="1.56" fill="#f9fb15"/>
<rect x="396.2" y="78.15" width="3.12" height="1.56" fill="#f9fb15"/>
</g>
</g>
<path d="M408.24 34.20 L406.27 38.08 L404.23 41.95 L402.14 45.83 L399.98 49.71 L397.77 53.58 L395.50 57.46 L393.17 61.34 L390.78 65.22 L388.34 69.09 L385.83 72.97 L383.26 76.85 L380.64 80.72 L377.96 84.60 L375.21 88.48 L372.41 92.35 L369.55 96.23 L366.63 100.11 L363.66 103.98 L360.62 107.86 L357.52 111.74 L354.37 115.62 L351.16 119.49 L347.88 123.37 L344.55 127.25 L341.16 131.12 L337.71 135.00" fill="none" stroke="#ff0000" stroke-width="1.7"/>
<path d="M395.7 72.5L397.8 74.6L395.7 76.69999999999999L393.59999999999997 74.6Z" fill="#000"/>
<rect x="321.2" y="34.4" width="100" height="100.0" fill="none" stroke="#262626" stroke-width="1.6"/>
<path d="M371.2 133.9v-1.1" stroke="#262626" stroke-width="0.7" stroke-opacity="0.7"/>
<text x="321.2" y="147.9" class="k">0.6</text>
<text x="371.2" y="147.9" class="k">0.65</text>
<text x="421.2" y="147.9" class="k">0.7</text>
<text x="370.9" y="162.0" class="l">R (m)</text>
<text x="508.7" y="9.899999999999999" class="t">Frame 54198</text>
<text x="508.7" y="23.9" class="t">T<tspan dy="6" font-size="9.8">0</tspan><tspan dy="-6"> + 11.11 </tspan><tspan class="mu">μ</tspan><tspan dx="0.6">s</tspan></text>
<g>
<rect x="459.0" y="34.4" width="100" height="100.0" fill="#259ce7"/>
<g filter="url(#bl)" shape-rendering="crispEdges">
<rect x="462.1" y="97.1" width="17.0" height="2.3" fill="#463ee1"/>
<rect x="460.3" y="99.4" width="20.8" height="2.2" fill="#463ee1"/>
<rect x="474.4" y="101.6" width="11.3" height="2.7" fill="#463ee1"/>
<rect x="481.4" y="104.3" width="6.9" height="2.5" fill="#463ee1"/>
<rect x="537.12" y="67.21" width="1.57" height="1.57" fill="#2fc5a2"/>
<rect x="537.12" y="68.78" width="1.57" height="1.56" fill="#2fc5a2"/>
<rect x="530.88" y="70.34" width="1.56" height="1.56" fill="#2fc5a2"/>
<rect x="521.5" y="71.9" width="1.56" height="1.56" fill="#2fc5a2"/>
<rect x="537.12" y="75.03" width="1.57" height="1.56" fill="#2fc5a2"/>
<rect x="537.12" y="76.59" width="1.57" height="1.56" fill="#2fc5a2"/>
<rect x="537.12" y="78.15" width="1.57" height="1.56" fill="#2fc5a2"/>
<rect x="537.12" y="81.28" width="1.57" height="1.56" fill="#2fc5a2"/>
<rect x="519.94" y="82.84" width="1.56" height="1.56" fill="#2fc5a2"/>
<rect x="524.62" y="85.96" width="1.57" height="1.57" fill="#2fc5a2"/>
<rect x="535.56" y="89.09" width="1.56" height="1.56" fill="#2fc5a2"/>
<rect x="524.62" y="98.46" width="1.57" height="1.57" fill="#2fc5a2"/>
<rect x="529.31" y="98.46" width="1.57" height="1.57" fill="#2fc5a2"/>
<rect x="532.44" y="65.65" width="1.56" height="1.56" fill="#39c895"/>
<rect x="532.44" y="70.34" width="1.56" height="1.56" fill="#39c895"/>
<rect x="519.94" y="73.46" width="1.56" height="1.57" fill="#39c895"/>
<rect x="537.12" y="79.71" width="1.57" height="1.57" fill="#39c895"/>
<rect x="521.5" y="82.84" width="1.56" height="1.56" fill="#39c895"/>
<rect x="534.0" y="95.34" width="1.56" height="1.56" fill="#39c895"/>
<rect x="532.44" y="96.9" width="1.56" height="1.56" fill="#39c895"/>
<rect x="509.9" y="109.4" width="5.1" height="5.2" fill="#48cb86"/>
<rect x="534.0" y="64.09" width="3.12" height="1.56" fill="#48cb86"/>
<rect x="519.94" y="75.03" width="1.56" height="1.56" fill="#48cb86"/>
<rect x="519.94" y="76.59" width="1.56" height="1.56" fill="#48cb86"/>
<rect x="519.94" y="81.28" width="1.56" height="1.56" fill="#48cb86"/>
<rect x="523.06" y="84.4" width="1.56" height="1.56" fill="#48cb86"/>
<rect x="535.56" y="87.53" width="1.56" height="1.56" fill="#48cb86"/>
<rect x="534.0" y="93.78" width="1.56" height="1.56" fill="#48cb86"/>
<rect x="526.19" y="98.46" width="3.12" height="1.57" fill="#48cb86"/>
<rect x="532.44" y="67.21" width="1.56" height="1.57" fill="#5ccc76"/>
<rect x="532.44" y="68.78" width="1.56" height="1.56" fill="#5ccc76"/>
<rect x="523.06" y="71.9" width="4.69" height="1.56" fill="#5ccc76"/>
<rect x="535.56" y="71.9" width="1.56" height="1.56" fill="#5ccc76"/>
<rect x="535.56" y="73.46" width="1.56" height="1.57" fill="#5ccc76"/>
<rect x="519.94" y="78.15" width="1.56" height="1.56" fill="#5ccc76"/>
<rect x="519.94" y="79.71" width="1.56" height="1.57" fill="#5ccc76"/>
<rect x="524.62" y="84.4" width="1.57" height="1.56" fill="#5ccc76"/>
<rect x="524.62" y="87.53" width="1.57" height="1.56" fill="#5ccc76"/>
<rect x="524.62" y="89.09" width="1.57" height="1.56" fill="#5ccc76"/>
<rect x="524.62" y="92.21" width="1.57" height="1.57" fill="#5ccc76"/>
<rect x="534.0" y="92.21" width="1.56" height="1.57" fill="#5ccc76"/>
<rect x="524.62" y="93.78" width="1.57" height="1.56" fill="#5ccc76"/>
<rect x="527.75" y="71.9" width="3.13" height="1.56" fill="#71cd64"/>
<rect x="521.5" y="73.46" width="1.56" height="1.57" fill="#71cd64"/>
<rect x="524.62" y="90.65" width="1.57" height="1.56" fill="#71cd64"/>
<rect x="534.0" y="90.65" width="1.56" height="1.56" fill="#71cd64"/>
<rect x="532.44" y="95.34" width="1.56" height="1.56" fill="#71cd64"/>
<rect x="524.62" y="96.9" width="1.57" height="1.56" fill="#71cd64"/>
<rect x="529.31" y="96.9" width="1.57" height="1.56" fill="#71cd64"/>
<rect x="535.56" y="65.65" width="1.56" height="1.56" fill="#88cb53"/>
<rect x="535.56" y="70.34" width="1.56" height="1.56" fill="#88cb53"/>
<rect x="530.88" y="71.9" width="4.68" height="1.56" fill="#88cb53"/>
<rect x="535.56" y="75.03" width="1.56" height="1.56" fill="#88cb53"/>
<rect x="523.06" y="82.84" width="1.56" height="1.56" fill="#88cb53"/>
<rect x="535.56" y="84.4" width="1.56" height="1.56" fill="#88cb53"/>
<rect x="535.56" y="85.96" width="1.56" height="1.57" fill="#88cb53"/>
<rect x="534.0" y="89.09" width="1.56" height="1.56" fill="#88cb53"/>
<rect x="530.88" y="96.9" width="1.56" height="1.56" fill="#88cb53"/>
<rect x="534.0" y="65.65" width="1.56" height="1.56" fill="#9fc942"/>
<rect x="523.06" y="73.46" width="1.56" height="1.57" fill="#9fc942"/>
<rect x="534.0" y="73.46" width="1.56" height="1.57" fill="#9fc942"/>
<rect x="521.5" y="75.03" width="1.56" height="1.56" fill="#9fc942"/>
<rect x="526.19" y="84.4" width="1.56" height="1.56" fill="#9fc942"/>
<rect x="524.62" y="95.34" width="1.57" height="1.56" fill="#9fc942"/>
<rect x="535.56" y="68.78" width="1.56" height="1.56" fill="#b4c533"/>
<rect x="534.0" y="70.34" width="1.56" height="1.56" fill="#b4c533"/>
<rect x="521.5" y="76.59" width="1.56" height="1.56" fill="#b4c533"/>
<rect x="535.56" y="76.59" width="1.56" height="1.56" fill="#b4c533"/>
<rect x="521.5" y="79.71" width="1.56" height="1.57" fill="#b4c533"/>
<rect x="521.5" y="81.28" width="3.12" height="1.56" fill="#b4c533"/>
<rect x="535.56" y="81.28" width="1.56" height="1.56" fill="#b4c533"/>
<rect x="524.62" y="82.84" width="3.13" height="1.56" fill="#b4c533"/>
<rect x="527.75" y="84.4" width="1.56" height="1.56" fill="#b4c533"/>
<rect x="526.19" y="85.96" width="1.56" height="1.57" fill="#b4c533"/>
<rect x="535.56" y="67.21" width="1.56" height="1.57" fill="#c8c129"/>
<rect x="532.44" y="73.46" width="1.56" height="1.57" fill="#c8c129"/>
<rect x="521.5" y="78.15" width="1.56" height="1.56" fill="#c8c129"/>
<rect x="535.56" y="78.15" width="1.56" height="1.56" fill="#c8c129"/>
<rect x="535.56" y="79.71" width="1.56" height="1.57" fill="#c8c129"/>
<rect x="535.56" y="82.84" width="1.56" height="1.56" fill="#c8c129"/>
<rect x="532.44" y="93.78" width="1.56" height="1.56" fill="#c8c129"/>
<rect x="530.88" y="95.34" width="1.56" height="1.56" fill="#c8c129"/>
<rect x="526.19" y="96.9" width="3.12" height="1.56" fill="#c8c129"/>
<rect x="534.0" y="67.21" width="1.56" height="1.57" fill="#dabd28"/>
<rect x="524.62" y="73.46" width="1.57" height="1.57" fill="#dabd28"/>
<rect x="527.75" y="73.46" width="1.56" height="1.57" fill="#dabd28"/>
<rect x="523.06" y="75.03" width="1.56" height="1.56" fill="#dabd28"/>
<rect x="523.06" y="76.59" width="1.56" height="1.56" fill="#dabd28"/>
<rect x="524.62" y="81.28" width="1.57" height="1.56" fill="#dabd28"/>
<rect x="527.75" y="82.84" width="1.56" height="1.56" fill="#dabd28"/>
<rect x="526.19" y="92.21" width="1.56" height="1.57" fill="#dabd28"/>
<rect x="532.44" y="92.21" width="1.56" height="1.57" fill="#dabd28"/>
<rect x="529.31" y="95.34" width="1.57" height="1.56" fill="#dabd28"/>
<rect x="523.06" y="79.71" width="1.56" height="1.57" fill="#eaba31"/>
<rect x="526.19" y="87.53" width="1.56" height="1.56" fill="#eaba31"/>
<rect x="534.0" y="87.53" width="1.56" height="1.56" fill="#eaba31"/>
<rect x="526.19" y="90.65" width="1.56" height="1.56" fill="#eaba31"/>
<rect x="532.44" y="90.65" width="1.56" height="1.56" fill="#eaba31"/>
<rect x="526.19" y="93.78" width="1.56" height="1.56" fill="#eaba31"/>
<rect x="526.19" y="95.34" width="1.56" height="1.56" fill="#eaba31"/>
<rect x="534.0" y="68.78" width="1.56" height="1.56" fill="#f8ba3d"/>
<rect x="526.19" y="73.46" width="1.56" height="1.57" fill="#f8ba3d"/>
<rect x="529.31" y="73.46" width="3.13" height="1.57" fill="#f8ba3d"/>
<rect x="534.0" y="75.03" width="1.56" height="1.56" fill="#f8ba3d"/>
<rect x="526.19" y="81.28" width="1.56" height="1.56" fill="#f8ba3d"/>
<rect x="527.75" y="85.96" width="1.56" height="1.57" fill="#f8ba3d"/>
<rect x="527.75" y="87.53" width="1.56" height="1.56" fill="#f8ba3d"/>
<rect x="526.19" y="89.09" width="1.56" height="1.56" fill="#f8ba3d"/>
<rect x="532.44" y="89.09" width="1.56" height="1.56" fill="#f8ba3d"/>
<rect x="527.75" y="93.78" width="1.56" height="1.56" fill="#f8ba3d"/>
<rect x="530.88" y="93.78" width="1.56" height="1.56" fill="#f8ba3d"/>
<rect x="524.62" y="75.03" width="3.13" height="1.56" fill="#fec13a"/>
<rect x="524.62" y="76.59" width="1.57" height="1.56" fill="#fec13a"/>
<rect x="523.06" y="78.15" width="3.13" height="1.56" fill="#fec13a"/>
<rect x="527.75" y="81.28" width="1.56" height="1.56" fill="#fec13a"/>
<rect x="534.0" y="85.96" width="1.56" height="1.57" fill="#fec13a"/>
<rect x="529.31" y="93.78" width="1.57" height="1.56" fill="#fec13a"/>
<rect x="527.75" y="95.34" width="1.56" height="1.56" fill="#fec13a"/>
<rect x="527.75" y="75.03" width="1.56" height="1.56" fill="#feca33"/>
<rect x="532.44" y="75.03" width="1.56" height="1.56" fill="#feca33"/>
<rect x="526.19" y="78.15" width="1.56" height="1.56" fill="#feca33"/>
<rect x="524.62" y="79.71" width="1.57" height="1.57" fill="#feca33"/>
<rect x="529.31" y="84.4" width="1.57" height="1.56" fill="#feca33"/>
<rect x="527.75" y="89.09" width="1.56" height="1.56" fill="#feca33"/>
<rect x="530.88" y="90.65" width="1.56" height="1.56" fill="#feca33"/>
<rect x="527.75" y="92.21" width="1.56" height="1.57" fill="#feca33"/>
<rect x="530.88" y="75.03" width="1.56" height="1.56" fill="#fad42e"/>
<rect x="526.19" y="76.59" width="1.56" height="1.56" fill="#fad42e"/>
<rect x="534.0" y="76.59" width="1.56" height="1.56" fill="#fad42e"/>
<rect x="526.19" y="79.71" width="3.12" height="1.57" fill="#fad42e"/>
<rect x="534.0" y="84.4" width="1.56" height="1.56" fill="#fad42e"/>
<rect x="529.31" y="85.96" width="1.57" height="1.57" fill="#fad42e"/>
<rect x="527.75" y="90.65" width="3.13" height="1.56" fill="#fad42e"/>
<rect x="529.31" y="92.21" width="3.13" height="1.57" fill="#fad42e"/>
<rect x="529.31" y="75.03" width="1.57" height="1.56" fill="#f6de29"/>
<rect x="527.75" y="76.59" width="1.56" height="1.56" fill="#f6de29"/>
<rect x="527.75" y="78.15" width="1.56" height="1.56" fill="#f6de29"/>
<rect x="534.0" y="81.28" width="1.56" height="1.56" fill="#f6de29"/>
<rect x="529.31" y="82.84" width="1.57" height="1.56" fill="#f6de29"/>
<rect x="534.0" y="82.84" width="1.56" height="1.56" fill="#f6de29"/>
<rect x="529.31" y="87.53" width="1.57" height="1.56" fill="#f6de29"/>
<rect x="532.44" y="87.53" width="1.56" height="1.56" fill="#f6de29"/>
<rect x="529.31" y="89.09" width="3.13" height="1.56" fill="#f6de29"/>
<rect x="532.44" y="76.59" width="1.56" height="1.56" fill="#f5e825"/>
<rect x="534.0" y="78.15" width="1.56" height="1.56" fill="#f5e825"/>
<rect x="532.44" y="85.96" width="1.56" height="1.57" fill="#f5e825"/>
<rect x="530.88" y="87.53" width="1.56" height="1.56" fill="#f5e825"/>
<rect x="529.31" y="76.59" width="1.57" height="1.56" fill="#f6f21e"/>
<rect x="529.31" y="78.15" width="1.57" height="1.56" fill="#f6f21e"/>
<rect x="534.0" y="79.71" width="1.56" height="1.57" fill="#f6f21e"/>
<rect x="529.31" y="81.28" width="1.57" height="1.56" fill="#f6f21e"/>
<rect x="532.44" y="82.84" width="1.56" height="1.56" fill="#f6f21e"/>
<rect x="532.44" y="84.4" width="1.56" height="1.56" fill="#f6f21e"/>
<rect x="530.88" y="85.96" width="1.56" height="1.57" fill="#f6f21e"/>
<rect x="530.88" y="76.59" width="1.56" height="1.56" fill="#f9fb15"/>
<rect x="530.88" y="78.15" width="3.12" height="1.56" fill="#f9fb15"/>
<rect x="529.31" y="79.71" width="4.69" height="1.57" fill="#f9fb15"/>
<rect x="530.88" y="81.28" width="3.12" height="1.56" fill="#f9fb15"/>
<rect x="530.88" y="82.84" width="1.56" height="1.56" fill="#f9fb15"/>
<rect x="530.88" y="84.4" width="1.56" height="1.56" fill="#f9fb15"/>
</g>
</g>
<path d="M546.04 34.20 L544.07 38.08 L542.03 41.95 L539.94 45.83 L537.78 49.71 L535.57 53.58 L533.30 57.46 L530.97 61.34 L528.58 65.22 L526.14 69.09 L523.63 72.97 L521.06 76.85 L518.44 80.72 L515.76 84.60 L513.01 88.48 L510.21 92.35 L507.35 96.23 L504.43 100.11 L501.46 103.98 L498.42 107.86 L495.32 111.74 L492.17 115.62 L488.96 119.49 L485.68 123.37 L482.35 127.25 L478.96 131.12 L475.51 135.00" fill="none" stroke="#ff0000" stroke-width="1.7"/>
<path d="M533.3 79.2L535.4 81.3L533.3 83.39999999999999L531.1999999999999 81.3Z" fill="#000"/>
<rect x="459.0" y="34.4" width="100" height="100.0" fill="none" stroke="#262626" stroke-width="1.6"/>
<path d="M509.0 133.9v-1.1" stroke="#262626" stroke-width="0.7" stroke-opacity="0.7"/>
<text x="459.0" y="147.9" class="k">0.6</text>
<text x="509.0" y="147.9" class="k">0.65</text>
<text x="559.0" y="147.9" class="k">0.7</text>
<text x="508.7" y="162.0" class="l">R (m)</text>
<text x="646.5" y="9.899999999999999" class="t">Frame 54199</text>
<text x="646.5" y="23.9" class="t">T<tspan dy="6" font-size="9.8">0</tspan><tspan dy="-6"> + 14.81 </tspan><tspan class="mu">μ</tspan><tspan dx="0.6">s</tspan></text>
<g>
<rect x="596.8" y="34.4" width="100" height="100.0" fill="#259ce7"/>
<g filter="url(#bl)" shape-rendering="crispEdges">
<rect x="678.05" y="57.84" width="1.56" height="1.56" fill="#2fc5a2"/>
<rect x="671.8" y="60.96" width="1.56" height="1.56" fill="#2fc5a2"/>
<rect x="667.11" y="64.09" width="1.56" height="1.56" fill="#2fc5a2"/>
<rect x="667.11" y="65.65" width="1.56" height="1.56" fill="#2fc5a2"/>
<rect x="684.3" y="65.65" width="1.56" height="1.56" fill="#2fc5a2"/>
<rect x="685.86" y="68.78" width="1.56" height="1.56" fill="#2fc5a2"/>
<rect x="682.74" y="79.71" width="1.56" height="1.57" fill="#2fc5a2"/>
<rect x="681.17" y="82.84" width="1.57" height="1.56" fill="#2fc5a2"/>
<rect x="665.55" y="89.09" width="1.56" height="1.56" fill="#2fc5a2"/>
<rect x="678.05" y="90.65" width="1.56" height="1.56" fill="#2fc5a2"/>
<rect x="663.99" y="92.21" width="1.56" height="1.57" fill="#2fc5a2"/>
<rect x="673.36" y="93.78" width="1.56" height="1.56" fill="#2fc5a2"/>
<rect x="660.86" y="95.34" width="1.56" height="1.56" fill="#2fc5a2"/>
<rect x="654.61" y="100.03" width="1.56" height="1.56" fill="#2fc5a2"/>
<rect x="663.99" y="100.03" width="1.56" height="1.56" fill="#2fc5a2"/>
<rect x="660.86" y="103.15" width="1.56" height="1.56" fill="#2fc5a2"/>
<rect x="649.92" y="104.71" width="1.57" height="1.57" fill="#2fc5a2"/>
<rect x="657.74" y="107.84" width="1.56" height="1.56" fill="#2fc5a2"/>
<rect x="674.92" y="57.84" width="1.57" height="1.56" fill="#39c895"/>
<rect x="673.36" y="59.4" width="1.56" height="1.56" fill="#39c895"/>
<rect x="679.61" y="60.96" width="1.56" height="1.56" fill="#39c895"/>
<rect x="668.67" y="62.52" width="1.57" height="1.57" fill="#39c895"/>
<rect x="671.8" y="62.52" width="1.56" height="1.57" fill="#39c895"/>
<rect x="681.17" y="62.52" width="1.57" height="1.57" fill="#39c895"/>
<rect x="681.17" y="64.09" width="1.57" height="1.56" fill="#39c895"/>
<rect x="682.74" y="65.65" width="1.56" height="1.56" fill="#39c895"/>
<rect x="684.3" y="70.34" width="1.56" height="1.56" fill="#39c895"/>
<rect x="682.74" y="75.03" width="1.56" height="1.56" fill="#39c895"/>
<rect x="682.74" y="78.15" width="1.56" height="1.56" fill="#39c895"/>
<rect x="667.11" y="81.28" width="1.56" height="1.56" fill="#39c895"/>
<rect x="681.17" y="81.28" width="1.57" height="1.56" fill="#39c895"/>
<rect x="679.61" y="84.4" width="1.56" height="1.56" fill="#39c895"/>
<rect x="667.11" y="87.53" width="1.56" height="1.56" fill="#39c895"/>
<rect x="674.92" y="92.21" width="3.13" height="1.57" fill="#39c895"/>
<rect x="662.42" y="93.78" width="1.57" height="1.56" fill="#39c895"/>
<rect x="671.8" y="95.34" width="1.56" height="1.56" fill="#39c895"/>
<rect x="659.3" y="96.9" width="1.56" height="1.56" fill="#39c895"/>
<rect x="668.67" y="96.9" width="1.57" height="1.56" fill="#39c895"/>
<rect x="657.74" y="98.46" width="1.56" height="1.57" fill="#39c895"/>
<rect x="667.11" y="98.46" width="1.56" height="1.57" fill="#39c895"/>
<rect x="653.05" y="101.59" width="1.56" height="1.56" fill="#39c895"/>
<rect x="651.49" y="103.15" width="1.56" height="1.56" fill="#39c895"/>
<rect x="649.92" y="106.28" width="1.57" height="1.56" fill="#39c895"/>
<rect x="649.92" y="109.4" width="1.57" height="1.56" fill="#39c895"/>
<rect x="656.17" y="110.96" width="1.57" height="1.57" fill="#39c895"/>
<rect x="649.92" y="112.53" width="1.57" height="1.56" fill="#39c895"/>
<rect x="676.49" y="57.84" width="1.56" height="1.56" fill="#48cb86"/>
<rect x="673.36" y="60.96" width="1.56" height="1.56" fill="#48cb86"/>
<rect x="679.61" y="62.52" width="1.56" height="1.57" fill="#48cb86"/>
<rect x="668.67" y="64.09" width="1.57" height="1.56" fill="#48cb86"/>
<rect x="667.11" y="67.21" width="1.56" height="1.57" fill="#48cb86"/>
<rect x="685.86" y="67.21" width="1.56" height="1.57" fill="#48cb86"/>
<rect x="682.74" y="70.34" width="1.56" height="1.56" fill="#48cb86"/>
<rect x="667.11" y="71.9" width="1.56" height="1.56" fill="#48cb86"/>
<rect x="667.11" y="73.46" width="1.56" height="1.57" fill="#48cb86"/>
<rect x="682.74" y="73.46" width="1.56" height="1.57" fill="#48cb86"/>
<rect x="667.11" y="76.59" width="1.56" height="1.56" fill="#48cb86"/>
<rect x="667.11" y="79.71" width="1.56" height="1.57" fill="#48cb86"/>
<rect x="665.55" y="98.46" width="1.56" height="1.57" fill="#48cb86"/>
<rect x="656.17" y="100.03" width="1.57" height="1.56" fill="#48cb86"/>
<rect x="654.61" y="101.59" width="1.56" height="1.56" fill="#48cb86"/>
<rect x="659.3" y="104.71" width="1.56" height="1.57" fill="#48cb86"/>
<rect x="657.74" y="106.28" width="1.56" height="1.56" fill="#48cb86"/>
<rect x="649.92" y="107.84" width="1.57" height="1.56" fill="#48cb86"/>
<rect x="653.05" y="112.53" width="1.56" height="1.56" fill="#48cb86"/>
<rect x="678.05" y="59.4" width="1.56" height="1.56" fill="#5ccc76"/>
<rect x="670.24" y="62.52" width="1.56" height="1.57" fill="#5ccc76"/>
<rect x="667.11" y="70.34" width="1.56" height="1.56" fill="#5ccc76"/>
<rect x="682.74" y="76.59" width="1.56" height="1.56" fill="#5ccc76"/>
<rect x="667.11" y="78.15" width="1.56" height="1.56" fill="#5ccc76"/>
<rect x="668.67" y="82.84" width="1.57" height="1.56" fill="#5ccc76"/>
<rect x="668.67" y="84.4" width="1.57" height="1.56" fill="#5ccc76"/>
<rect x="667.11" y="96.9" width="1.56" height="1.56" fill="#5ccc76"/>
<rect x="660.86" y="101.59" width="3.13" height="1.56" fill="#5ccc76"/>
<rect x="659.3" y="103.15" width="1.56" height="1.56" fill="#5ccc76"/>
<rect x="681.17" y="65.65" width="1.57" height="1.56" fill="#71cd64"/>
<rect x="684.3" y="67.21" width="1.56" height="1.57" fill="#71cd64"/>
<rect x="667.11" y="68.78" width="1.56" height="1.56" fill="#71cd64"/>
<rect x="682.74" y="71.9" width="1.56" height="1.56" fill="#71cd64"/>
<rect x="667.11" y="75.03" width="1.56" height="1.56" fill="#71cd64"/>
<rect x="679.61" y="82.84" width="1.56" height="1.56" fill="#71cd64"/>
<rect x="668.67" y="85.96" width="1.57" height="1.57" fill="#71cd64"/>
<rect x="667.11" y="89.09" width="1.56" height="1.56" fill="#71cd64"/>
<rect x="678.05" y="89.09" width="1.56" height="1.56" fill="#71cd64"/>
<rect x="665.55" y="90.65" width="1.56" height="1.56" fill="#71cd64"/>
<rect x="673.36" y="92.21" width="1.56" height="1.57" fill="#71cd64"/>
<rect x="663.99" y="93.78" width="1.56" height="1.56" fill="#71cd64"/>
<rect x="671.8" y="93.78" width="1.56" height="1.56" fill="#71cd64"/>
<rect x="660.86" y="96.9" width="1.56" height="1.56" fill="#71cd64"/>
<rect x="663.99" y="98.46" width="1.56" height="1.57" fill="#71cd64"/>
<rect x="657.74" y="100.03" width="1.56" height="1.56" fill="#71cd64"/>
<rect x="659.3" y="101.59" width="1.56" height="1.56" fill="#71cd64"/>
<rect x="651.49" y="104.71" width="1.56" height="1.57" fill="#71cd64"/>
<rect x="657.74" y="104.71" width="1.56" height="1.57" fill="#71cd64"/>
<rect x="656.17" y="109.4" width="1.57" height="1.56" fill="#71cd64"/>
<rect x="649.92" y="110.96" width="1.57" height="1.57" fill="#71cd64"/>
<rect x="654.61" y="110.96" width="1.56" height="1.57" fill="#71cd64"/>
<rect x="674.92" y="59.4" width="1.57" height="1.56" fill="#88cb53"/>
<rect x="670.24" y="64.09" width="3.12" height="1.56" fill="#88cb53"/>
<rect x="679.61" y="64.09" width="1.56" height="1.56" fill="#88cb53"/>
<rect x="682.74" y="67.21" width="1.56" height="1.57" fill="#88cb53"/>
<rect x="684.3" y="68.78" width="1.56" height="1.56" fill="#88cb53"/>
<rect x="681.17" y="78.15" width="1.57" height="1.56" fill="#88cb53"/>
<rect x="668.67" y="79.71" width="1.57" height="1.57" fill="#88cb53"/>
<rect x="681.17" y="79.71" width="1.57" height="1.57" fill="#88cb53"/>
<rect x="668.67" y="81.28" width="1.57" height="1.56" fill="#88cb53"/>
<rect x="676.49" y="90.65" width="1.56" height="1.56" fill="#88cb53"/>
<rect x="665.55" y="92.21" width="1.56" height="1.57" fill="#88cb53"/>
<rect x="662.42" y="95.34" width="1.57" height="1.56" fill="#88cb53"/>
<rect x="670.24" y="95.34" width="1.56" height="1.56" fill="#88cb53"/>
<rect x="659.3" y="98.46" width="1.56" height="1.57" fill="#88cb53"/>
<rect x="662.42" y="100.03" width="1.57" height="1.56" fill="#88cb53"/>
<rect x="653.05" y="103.15" width="1.56" height="1.56" fill="#88cb53"/>
<rect x="651.49" y="109.4" width="1.56" height="1.56" fill="#88cb53"/>
<rect x="651.49" y="112.53" width="1.56" height="1.56" fill="#88cb53"/>
<rect x="676.49" y="59.4" width="1.56" height="1.56" fill="#9fc942"/>
<rect x="678.05" y="60.96" width="1.56" height="1.56" fill="#9fc942"/>
<rect x="673.36" y="62.52" width="1.56" height="1.57" fill="#9fc942"/>
<rect x="679.61" y="65.65" width="1.56" height="1.56" fill="#9fc942"/>
<rect x="668.67" y="67.21" width="1.57" height="1.57" fill="#9fc942"/>
<rect x="681.17" y="67.21" width="1.57" height="1.57" fill="#9fc942"/>
<rect x="682.74" y="68.78" width="1.56" height="1.56" fill="#9fc942"/>
<rect x="668.67" y="76.59" width="1.57" height="1.56" fill="#9fc942"/>
<rect x="681.17" y="76.59" width="1.57" height="1.56" fill="#9fc942"/>
<rect x="678.05" y="85.96" width="1.56" height="1.57" fill="#9fc942"/>
<rect x="668.67" y="87.53" width="1.57" height="1.56" fill="#9fc942"/>
<rect x="678.05" y="87.53" width="1.56" height="1.56" fill="#9fc942"/>
<rect x="668.67" y="95.34" width="1.57" height="1.56" fill="#9fc942"/>
<rect x="662.42" y="96.9" width="1.57" height="1.56" fill="#9fc942"/>
<rect x="657.74" y="101.59" width="1.56" height="1.56" fill="#9fc942"/>
<rect x="656.17" y="104.71" width="1.57" height="1.57" fill="#9fc942"/>
<rect x="651.49" y="110.96" width="3.12" height="1.57" fill="#9fc942"/>
<rect x="668.67" y="65.65" width="1.57" height="1.56" fill="#b4c533"/>
<rect x="668.67" y="68.78" width="1.57" height="1.56" fill="#b4c533"/>
<rect x="681.17" y="68.78" width="1.57" height="1.56" fill="#b4c533"/>
<rect x="681.17" y="70.34" width="1.57" height="1.56" fill="#b4c533"/>
<rect x="681.17" y="71.9" width="1.57" height="1.56" fill="#b4c533"/>
<rect x="668.67" y="73.46" width="1.57" height="1.57" fill="#b4c533"/>
<rect x="681.17" y="73.46" width="1.57" height="1.57" fill="#b4c533"/>
<rect x="681.17" y="75.03" width="1.57" height="1.56" fill="#b4c533"/>
<rect x="679.61" y="81.28" width="1.56" height="1.56" fill="#b4c533"/>
<rect x="673.36" y="90.65" width="3.13" height="1.56" fill="#b4c533"/>
<rect x="671.8" y="92.21" width="1.56" height="1.57" fill="#b4c533"/>
<rect x="667.11" y="95.34" width="1.56" height="1.56" fill="#b4c533"/>
<rect x="665.55" y="96.9" width="1.56" height="1.56" fill="#b4c533"/>
<rect x="660.86" y="98.46" width="3.13" height="1.57" fill="#b4c533"/>
<rect x="659.3" y="100.03" width="3.12" height="1.56" fill="#b4c533"/>
<rect x="656.17" y="101.59" width="1.57" height="1.56" fill="#b4c533"/>
<rect x="654.61" y="103.15" width="1.56" height="1.56" fill="#b4c533"/>
<rect x="656.17" y="106.28" width="1.57" height="1.56" fill="#b4c533"/>
<rect x="656.17" y="107.84" width="1.57" height="1.56" fill="#b4c533"/>
<rect x="653.05" y="109.4" width="1.56" height="1.56" fill="#b4c533"/>
<rect x="678.05" y="62.52" width="1.56" height="1.57" fill="#c8c129"/>
<rect x="673.36" y="64.09" width="1.56" height="1.56" fill="#c8c129"/>
<rect x="679.61" y="67.21" width="1.56" height="1.57" fill="#c8c129"/>
<rect x="668.67" y="70.34" width="1.57" height="1.56" fill="#c8c129"/>
<rect x="668.67" y="78.15" width="1.57" height="1.56" fill="#c8c129"/>
<rect x="668.67" y="89.09" width="1.57" height="1.56" fill="#c8c129"/>
<rect x="665.55" y="93.78" width="1.56" height="1.56" fill="#c8c129"/>
<rect x="663.99" y="95.34" width="1.56" height="1.56" fill="#c8c129"/>
<rect x="663.99" y="96.9" width="1.56" height="1.56" fill="#c8c129"/>
<rect x="657.74" y="103.15" width="1.56" height="1.56" fill="#c8c129"/>
<rect x="651.49" y="106.28" width="1.56" height="1.56" fill="#c8c129"/>
<rect x="651.49" y="107.84" width="1.56" height="1.56" fill="#c8c129"/>
<rect x="654.61" y="109.4" width="1.56" height="1.56" fill="#c8c129"/>
<rect x="674.92" y="60.96" width="3.13" height="1.56" fill="#dabd28"/>
<rect x="674.92" y="62.52" width="3.13" height="1.57" fill="#dabd28"/>
<rect x="678.05" y="64.09" width="1.56" height="1.56" fill="#dabd28"/>
<rect x="670.24" y="65.65" width="3.12" height="1.56" fill="#dabd28"/>
<rect x="668.67" y="71.9" width="1.57" height="1.56" fill="#dabd28"/>
<rect x="668.67" y="75.03" width="1.57" height="1.56" fill="#dabd28"/>
<rect x="678.05" y="84.4" width="1.56" height="1.56" fill="#dabd28"/>
<rect x="667.11" y="90.65" width="1.56" height="1.56" fill="#dabd28"/>
<rect x="670.24" y="93.78" width="1.56" height="1.56" fill="#dabd28"/>
<rect x="665.55" y="95.34" width="1.56" height="1.56" fill="#dabd28"/>
<rect x="656.17" y="103.15" width="1.57" height="1.56" fill="#dabd28"/>
<rect x="653.05" y="104.71" width="1.56" height="1.57" fill="#dabd28"/>
<rect x="676.49" y="64.09" width="1.56" height="1.56" fill="#eaba31"/>
<rect x="673.36" y="65.65" width="1.56" height="1.56" fill="#eaba31"/>
<rect x="678.05" y="65.65" width="1.56" height="1.56" fill="#eaba31"/>
<rect x="670.24" y="68.78" width="1.56" height="1.56" fill="#eaba31"/>
<rect x="679.61" y="79.71" width="1.56" height="1.57" fill="#eaba31"/>
<rect x="678.05" y="82.84" width="1.56" height="1.56" fill="#eaba31"/>
<rect x="670.24" y="87.53" width="1.56" height="1.56" fill="#eaba31"/>
<rect x="670.24" y="89.09" width="1.56" height="1.56" fill="#eaba31"/>
<rect x="676.49" y="89.09" width="1.56" height="1.56" fill="#eaba31"/>
<rect x="671.8" y="90.65" width="1.56" height="1.56" fill="#eaba31"/>
<rect x="667.11" y="92.21" width="1.56" height="1.57" fill="#eaba31"/>
<rect x="667.11" y="93.78" width="1.56" height="1.56" fill="#eaba31"/>
<rect x="654.61" y="104.71" width="1.56" height="1.57" fill="#eaba31"/>
<rect x="674.92" y="64.09" width="1.57" height="1.56" fill="#f8ba3d"/>
<rect x="676.49" y="65.65" width="1.56" height="1.56" fill="#f8ba3d"/>
<rect x="670.24" y="67.21" width="3.12" height="1.57" fill="#f8ba3d"/>
<rect x="678.05" y="67.21" width="1.56" height="1.57" fill="#f8ba3d"/>
<rect x="679.61" y="68.78" width="1.56" height="1.56" fill="#f8ba3d"/>
<rect x="670.24" y="70.34" width="1.56" height="1.56" fill="#f8ba3d"/>
<rect x="670.24" y="76.59" width="1.56" height="1.56" fill="#f8ba3d"/>
<rect x="670.24" y="78.15" width="1.56" height="1.56" fill="#f8ba3d"/>
<rect x="679.61" y="78.15" width="1.56" height="1.56" fill="#f8ba3d"/>
<rect x="670.24" y="84.4" width="1.56" height="1.56" fill="#f8ba3d"/>
<rect x="671.8" y="89.09" width="1.56" height="1.56" fill="#f8ba3d"/>
<rect x="668.67" y="90.65" width="3.13" height="1.56" fill="#f8ba3d"/>
<rect x="668.67" y="93.78" width="1.57" height="1.56" fill="#f8ba3d"/>
<rect x="674.92" y="65.65" width="1.57" height="1.56" fill="#fec13a"/>
<rect x="674.92" y="67.21" width="1.57" height="1.57" fill="#fec13a"/>
<rect x="671.8" y="68.78" width="1.56" height="1.56" fill="#fec13a"/>
<rect x="679.61" y="70.34" width="1.56" height="1.56" fill="#fec13a"/>
<rect x="670.24" y="71.9" width="1.56" height="1.56" fill="#fec13a"/>
<rect x="679.61" y="71.9" width="1.56" height="1.56" fill="#fec13a"/>
<rect x="670.24" y="73.46" width="1.56" height="1.57" fill="#fec13a"/>
<rect x="679.61" y="73.46" width="1.56" height="1.57" fill="#fec13a"/>
<rect x="670.24" y="75.03" width="1.56" height="1.56" fill="#fec13a"/>
<rect x="679.61" y="75.03" width="1.56" height="1.56" fill="#fec13a"/>
<rect x="679.61" y="76.59" width="1.56" height="1.56" fill="#fec13a"/>
<rect x="670.24" y="79.71" width="1.56" height="1.57" fill="#fec13a"/>
<rect x="670.24" y="81.28" width="1.56" height="1.56" fill="#fec13a"/>
<rect x="670.24" y="85.96" width="1.56" height="1.57" fill="#fec13a"/>
<rect x="676.49" y="87.53" width="1.56" height="1.56" fill="#fec13a"/>
<rect x="673.36" y="89.09" width="3.13" height="1.56" fill="#fec13a"/>
<rect x="670.24" y="92.21" width="1.56" height="1.57" fill="#fec13a"/>
<rect x="653.05" y="106.28" width="3.12" height="1.56" fill="#fec13a"/>
<rect x="653.05" y="107.84" width="3.12" height="1.56" fill="#fec13a"/>
<rect x="673.36" y="67.21" width="1.56" height="1.57" fill="#feca33"/>
<rect x="676.49" y="67.21" width="1.56" height="1.57" fill="#feca33"/>
<rect x="678.05" y="81.28" width="1.56" height="1.56" fill="#feca33"/>
<rect x="670.24" y="82.84" width="1.56" height="1.56" fill="#feca33"/>
<rect x="676.49" y="85.96" width="1.56" height="1.57" fill="#feca33"/>
<rect x="678.05" y="68.78" width="1.56" height="1.56" fill="#fad42e"/>
<rect x="671.8" y="78.15" width="1.56" height="1.56" fill="#fad42e"/>
<rect x="671.8" y="87.53" width="1.56" height="1.56" fill="#fad42e"/>
<rect x="668.67" y="92.21" width="1.57" height="1.57" fill="#fad42e"/>
<rect x="673.36" y="68.78" width="1.56" height="1.56" fill="#f6de29"/>
<rect x="671.8" y="70.34" width="1.56" height="1.56" fill="#f6de29"/>
<rect x="671.8" y="71.9" width="1.56" height="1.56" fill="#f6de29"/>
<rect x="671.8" y="75.03" width="1.56" height="1.56" fill="#f6de29"/>
<rect x="676.49" y="84.4" width="1.56" height="1.56" fill="#f6de29"/>
<rect x="676.49" y="68.78" width="1.56" height="1.56" fill="#f5e825"/>
<rect x="678.05" y="70.34" width="1.56" height="1.56" fill="#f5e825"/>
<rect x="671.8" y="73.46" width="1.56" height="1.57" fill="#f5e825"/>
<rect x="671.8" y="76.59" width="1.56" height="1.56" fill="#f5e825"/>
<rect x="671.8" y="79.71" width="1.56" height="1.57" fill="#f5e825"/>
<rect x="678.05" y="79.71" width="1.56" height="1.57" fill="#f5e825"/>
<rect x="671.8" y="85.96" width="1.56" height="1.57" fill="#f5e825"/>
<rect x="673.36" y="87.53" width="3.13" height="1.56" fill="#f5e825"/>
<rect x="674.92" y="68.78" width="1.57" height="1.56" fill="#f6f21e"/>
<rect x="678.05" y="71.9" width="1.56" height="1.56" fill="#f6f21e"/>
<rect x="671.8" y="81.28" width="1.56" height="1.56" fill="#f6f21e"/>
<rect x="676.49" y="82.84" width="1.56" height="1.56" fill="#f6f21e"/>
<rect x="671.8" y="84.4" width="1.56" height="1.56" fill="#f6f21e"/>
<rect x="674.92" y="85.96" width="1.57" height="1.57" fill="#f6f21e"/>
<rect x="673.36" y="70.34" width="4.69" height="1.56" fill="#f9fb15"/>
<rect x="673.36" y="71.9" width="4.69" height="1.56" fill="#f9fb15"/>
<rect x="673.36" y="73.46" width="6.25" height="1.57" fill="#f9fb15"/>
<rect x="673.36" y="75.03" width="6.25" height="1.56" fill="#f9fb15"/>
<rect x="673.36" y="76.59" width="6.25" height="1.56" fill="#f9fb15"/>
<rect x="673.36" y="78.15" width="6.25" height="1.56" fill="#f9fb15"/>
<rect x="673.36" y="79.71" width="4.69" height="1.57" fill="#f9fb15"/>
<rect x="673.36" y="81.28" width="4.69" height="1.56" fill="#f9fb15"/>
<rect x="671.8" y="82.84" width="4.69" height="1.56" fill="#f9fb15"/>
<rect x="673.36" y="84.4" width="3.13" height="1.56" fill="#f9fb15"/>
<rect x="673.36" y="85.96" width="1.56" height="1.57" fill="#f9fb15"/>
</g>
</g>
<path d="M683.84 34.20 L681.87 38.08 L679.83 41.95 L677.74 45.83 L675.58 49.71 L673.37 53.58 L671.10 57.46 L668.77 61.34 L666.38 65.22 L663.94 69.09 L661.43 72.97 L658.86 76.85 L656.24 80.72 L653.56 84.60 L650.81 88.48 L648.01 92.35 L645.15 96.23 L642.23 100.11 L639.26 103.98 L636.22 107.86 L633.12 111.74 L629.97 115.62 L626.76 119.49 L623.48 123.37 L620.15 127.25 L616.76 131.12 L613.31 135.00" fill="none" stroke="#ff0000" stroke-width="1.7"/>
<path d="M671.6 81.2L673.7 83.3L671.6 85.39999999999999L669.5 83.3Z" fill="#000"/>
<rect x="596.8" y="34.4" width="100" height="100.0" fill="none" stroke="#262626" stroke-width="1.6"/>
<path d="M646.8 133.9v-1.1" stroke="#262626" stroke-width="0.7" stroke-opacity="0.7"/>
<text x="596.8" y="147.9" class="k">0.6</text>
<text x="646.8" y="147.9" class="k">0.65</text>
<text x="696.8" y="147.9" class="k">0.7</text>
<text x="646.5" y="162.0" class="l">R (m)</text>
<text x="95.30000000000001" y="234.7" class="t">Frame 54200</text>
<text x="95.30000000000001" y="248.7" class="t">T<tspan dy="6" font-size="9.8">0</tspan><tspan dy="-6"> + 18.52 </tspan><tspan class="mu">μ</tspan><tspan dx="0.6">s</tspan></text>
<g>
<rect x="45.6" y="258.7" width="100" height="100.5" fill="#259ce7"/>
<g filter="url(#bl)" shape-rendering="crispEdges">
<rect x="115.6" y="305.8" width="1.9" height="2.0" fill="#4850f2"/>
<rect x="113.6" y="308.7" width="2.0" height="2.0" fill="#4850f2"/>
<rect x="132.3" y="311.4" width="1.9" height="1.9" fill="#4850f2"/>
<rect x="104.97" y="283.7" width="3.13" height="1.56" fill="#484cef"/>
<rect x="108.1" y="283.7" width="3.12" height="1.56" fill="#4433cc"/>
<rect x="111.22" y="283.7" width="3.13" height="1.56" fill="#4743e7"/>
<rect x="114.35" y="283.7" width="1.56" height="1.56" fill="#484cef"/>
<rect x="103.41" y="285.26" width="3.13" height="1.56" fill="#484cef"/>
<rect x="106.54" y="285.26" width="1.56" height="1.56" fill="#412dbb"/>
<rect x="108.1" y="285.26" width="3.12" height="1.56" fill="#3e26a8"/>
<rect x="111.22" y="285.26" width="1.57" height="1.56" fill="#412dbb"/>
<rect x="112.79" y="285.26" width="1.56" height="1.56" fill="#4433cc"/>
<rect x="114.35" y="285.26" width="1.56" height="1.56" fill="#4743e7"/>
<rect x="115.91" y="285.26" width="1.56" height="1.56" fill="#484cef"/>
<rect x="103.41" y="286.82" width="1.56" height="1.57" fill="#484cef"/>
<rect x="104.97" y="286.82" width="1.57" height="1.57" fill="#463adc"/>
<rect x="106.54" y="286.82" width="6.25" height="1.57" fill="#3e26a8"/>
<rect x="112.79" y="286.82" width="1.56" height="1.57" fill="#412dbb"/>
<rect x="114.35" y="286.82" width="1.56" height="1.57" fill="#4743e7"/>
<rect x="115.91" y="286.82" width="1.56" height="1.57" fill="#484cef"/>
<rect x="103.41" y="288.39" width="1.56" height="1.56" fill="#484cef"/>
<rect x="104.97" y="288.39" width="1.57" height="1.56" fill="#4743e7"/>
<rect x="106.54" y="288.39" width="1.56" height="1.56" fill="#4433cc"/>
<rect x="108.1" y="288.39" width="3.12" height="1.56" fill="#3e26a8"/>
<rect x="111.22" y="288.39" width="1.57" height="1.56" fill="#4433cc"/>
<rect x="112.79" y="288.39" width="3.12" height="1.56" fill="#463adc"/>
<rect x="115.91" y="288.39" width="1.56" height="1.56" fill="#484cef"/>
<rect x="103.41" y="289.95" width="1.56" height="1.56" fill="#484cef"/>
<rect x="104.97" y="289.95" width="3.13" height="1.56" fill="#4743e7"/>
<rect x="108.1" y="289.95" width="1.56" height="1.56" fill="#4433cc"/>
<rect x="109.66" y="289.95" width="1.56" height="1.56" fill="#412dbb"/>
<rect x="111.22" y="289.95" width="1.57" height="1.56" fill="#463adc"/>
<rect x="112.79" y="289.95" width="3.12" height="1.56" fill="#4743e7"/>
<rect x="115.91" y="289.95" width="1.56" height="1.56" fill="#484cef"/>
<rect x="103.41" y="291.51" width="1.56" height="1.56" fill="#484cef"/>
<rect x="104.97" y="291.51" width="1.57" height="1.56" fill="#463adc"/>
<rect x="106.54" y="291.51" width="3.12" height="1.56" fill="#4433cc"/>
<rect x="109.66" y="291.51" width="1.56" height="1.56" fill="#463adc"/>
<rect x="111.22" y="291.51" width="1.57" height="1.56" fill="#4743e7"/>
<rect x="112.79" y="291.51" width="1.56" height="1.56" fill="#4433cc"/>
<rect x="114.35" y="291.51" width="1.56" height="1.56" fill="#4743e7"/>
<rect x="115.91" y="291.51" width="1.56" height="1.56" fill="#484cef"/>
<rect x="104.97" y="293.07" width="4.69" height="1.57" fill="#484cef"/>
<rect x="109.66" y="293.07" width="1.56" height="1.57" fill="#463adc"/>
<rect x="111.22" y="293.07" width="1.57" height="1.57" fill="#4743e7"/>
<rect x="112.79" y="293.07" width="4.68" height="1.57" fill="#484cef"/>
<rect x="124.6" y="291.1" width="2.5" height="1.9" fill="#0ebdbb"/>
<rect x="128.41" y="293.07" width="4.69" height="1.56" fill="#10beba"/>
<rect x="128.41" y="294.64" width="6.25" height="1.56" fill="#10beba"/>
<rect x="126.85" y="296.2" width="7.81" height="1.56" fill="#10beba"/>
<rect x="126.85" y="297.76" width="6.25" height="1.56" fill="#10beba"/>
<rect x="126.85" y="299.32" width="4.69" height="1.56" fill="#10beba"/>
<rect x="125.29" y="300.89" width="4.69" height="1.56" fill="#10beba"/>
<rect x="125.29" y="302.45" width="4.69" height="1.56" fill="#10beba"/>
<rect x="123.72" y="304.01" width="4.69" height="1.56" fill="#10beba"/>
<rect x="123.72" y="305.57" width="3.12" height="1.56" fill="#10beba"/>
<rect x="122.16" y="307.14" width="4.69" height="1.56" fill="#10beba"/>
<rect x="120.6" y="308.7" width="4.69" height="1.56" fill="#10beba"/>
<rect x="120.6" y="310.26" width="3.12" height="1.56" fill="#10beba"/>
<rect x="119.04" y="311.82" width="4.69" height="1.56" fill="#10beba"/>
<rect x="117.47" y="313.39" width="4.69" height="1.56" fill="#10beba"/>
<rect x="115.91" y="314.95" width="4.69" height="1.56" fill="#10beba"/>
<rect x="114.35" y="316.51" width="6.25" height="1.56" fill="#10beba"/>
<rect x="112.79" y="318.07" width="6.25" height="1.56" fill="#10beba"/>
<rect x="112.79" y="319.64" width="4.69" height="1.56" fill="#10beba"/>
<rect x="109.66" y="321.2" width="6.25" height="1.56" fill="#10beba"/>
<rect x="108.1" y="322.76" width="6.25" height="1.56" fill="#10beba"/>
<rect x="106.54" y="324.32" width="6.25" height="1.56" fill="#10beba"/>
<rect x="104.97" y="325.89" width="6.25" height="1.56" fill="#10beba"/>
<rect x="103.41" y="327.45" width="7.81" height="1.56" fill="#10beba"/>
<rect x="101.85" y="329.01" width="7.81" height="1.56" fill="#10beba"/>
<rect x="100.29" y="330.57" width="7.81" height="1.56" fill="#10beba"/>
<rect x="98.72" y="332.14" width="7.81" height="1.56" fill="#10beba"/>
<rect x="98.72" y="333.7" width="6.25" height="1.56" fill="#10beba"/>
<rect x="97.16" y="335.26" width="6.25" height="1.56" fill="#10beba"/>
<rect x="95.6" y="336.82" width="7.81" height="1.56" fill="#10beba"/>
<rect x="95.6" y="338.39" width="7.81" height="1.56" fill="#10beba"/>
<rect x="94.04" y="339.95" width="7.81" height="1.56" fill="#10beba"/>
<rect x="95.6" y="341.51" width="7.81" height="1.56" fill="#10beba"/>
<rect x="97.16" y="343.07" width="7.81" height="1.56" fill="#10beba"/>
<rect x="98.72" y="344.64" width="6.25" height="1.56" fill="#10beba"/>
<rect x="98.72" y="346.2" width="7.81" height="1.56" fill="#10beba"/>
<rect x="100.29" y="347.76" width="6.25" height="1.56" fill="#10beba"/>
<rect x="100.29" y="349.32" width="6.25" height="1.56" fill="#10beba"/>
<rect x="100.29" y="350.89" width="6.25" height="1.56" fill="#10beba"/>
<rect x="100.29" y="352.45" width="6.25" height="1.56" fill="#10beba"/>
<rect x="100.29" y="354.01" width="6.25" height="1.56" fill="#10beba"/>
<rect x="100.29" y="355.57" width="4.69" height="1.56" fill="#10beba"/>
<rect x="100.29" y="357.14" width="4.69" height="1.56" fill="#10beba"/>
<rect x="128.41" y="297.76" width="3.12" height="1.56" fill="#46cb88"/>
<rect x="122.16" y="308.7" width="3.12" height="1.56" fill="#49cb86"/>
<rect x="125.29" y="304.01" width="3.12" height="1.56" fill="#49cb85"/>
<rect x="125.29" y="302.45" width="3.12" height="1.56" fill="#4fcc80"/>
<rect x="120.6" y="310.26" width="3.12" height="1.56" fill="#50cc80"/>
<rect x="129.97" y="293.07" width="3.12" height="1.56" fill="#52cc7e"/>
<rect x="128.41" y="296.2" width="4.69" height="1.56" fill="#58cc79"/>
<rect x="126.85" y="299.32" width="4.69" height="1.56" fill="#5ccc76"/>
<rect x="117.47" y="314.95" width="3.12" height="1.56" fill="#5ecc74"/>
<rect x="101.85" y="355.57" width="3.12" height="1.56" fill="#5ecc74"/>
<rect x="100.29" y="332.14" width="4.69" height="1.56" fill="#5ecd74"/>
<rect x="97.16" y="338.39" width="4.69" height="1.56" fill="#5fcd73"/>
<rect x="100.29" y="349.32" width="4.69" height="1.56" fill="#5fcd73"/>
<rect x="111.22" y="321.2" width="4.69" height="1.56" fill="#60cd73"/>
<rect x="106.54" y="325.89" width="4.69" height="1.56" fill="#62cd70"/>
<rect x="122.16" y="307.14" width="3.12" height="1.56" fill="#63cd6f"/>
<rect x="100.29" y="344.64" width="4.69" height="1.56" fill="#64cd6f"/>
<rect x="123.72" y="305.57" width="3.12" height="1.56" fill="#64cd6f"/>
<rect x="98.72" y="343.07" width="4.69" height="1.56" fill="#64cd6f"/>
<rect x="104.97" y="327.45" width="4.69" height="1.56" fill="#66cd6d"/>
<rect x="126.85" y="300.89" width="3.12" height="1.56" fill="#69cd6b"/>
<rect x="119.04" y="311.82" width="3.12" height="1.56" fill="#69cd6a"/>
<rect x="128.41" y="294.64" width="4.69" height="1.56" fill="#6acd6a"/>
<rect x="112.79" y="319.64" width="4.69" height="1.56" fill="#6bcd69"/>
<rect x="101.85" y="350.89" width="4.69" height="1.56" fill="#6ccd68"/>
<rect x="97.16" y="336.82" width="4.69" height="1.56" fill="#6dcd67"/>
<rect x="98.72" y="333.7" width="6.25" height="1.56" fill="#6fcd66"/>
<rect x="101.85" y="354.01" width="3.12" height="1.56" fill="#70cd65"/>
<rect x="115.91" y="316.51" width="3.12" height="1.56" fill="#72cd63"/>
<rect x="119.04" y="313.39" width="3.12" height="1.56" fill="#75cc61"/>
<rect x="100.29" y="357.14" width="4.69" height="1.56" fill="#77cc60"/>
<rect x="101.85" y="330.57" width="4.69" height="1.56" fill="#78cc5f"/>
<rect x="95.6" y="339.95" width="6.25" height="1.56" fill="#7acc5e"/>
<rect x="100.29" y="347.76" width="4.69" height="1.56" fill="#7bcc5d"/>
<rect x="109.66" y="322.76" width="4.69" height="1.56" fill="#7dcc5c"/>
<rect x="108.1" y="324.32" width="4.69" height="1.56" fill="#81cc59"/>
<rect x="100.29" y="346.2" width="4.69" height="1.56" fill="#82cc58"/>
<rect x="97.16" y="341.51" width="4.69" height="1.56" fill="#83cc57"/>
<rect x="103.41" y="329.01" width="4.69" height="1.56" fill="#84cc56"/>
<rect x="114.35" y="318.07" width="4.69" height="1.56" fill="#86cb55"/>
<rect x="101.85" y="352.45" width="4.69" height="1.56" fill="#86cb55"/>
<rect x="98.72" y="335.26" width="4.69" height="1.56" fill="#86cb55"/>
<rect x="120.9" y="310" width="2.4" height="3" fill="#9fc942"/>
<rect x="107" y="325" width="3" height="3.5" fill="#9fc942"/>
<rect x="122.8" y="306.5" width="2.4" height="3.2" fill="#c8c129"/>
<rect x="103.8" y="328" width="3.7" height="3.9" fill="#dabd28"/>
<rect x="124.8" y="303.9" width="2.3" height="2.6" fill="#eaba31"/>
</g>
</g>
<path d="M132.64 258.50 L130.67 262.38 L128.63 266.25 L126.54 270.13 L124.38 274.01 L122.17 277.88 L119.90 281.76 L117.57 285.64 L115.18 289.52 L112.74 293.39 L110.23 297.27 L107.66 301.15 L105.04 305.02 L102.36 308.90 L99.61 312.78 L96.81 316.65 L93.95 320.53 L91.03 324.41 L88.06 328.28 L85.02 332.16 L81.92 336.04 L78.77 339.92 L75.56 343.79 L72.28 347.67 L68.95 351.55 L65.56 355.42 L62.11 359.30" fill="none" stroke="#ff0000" stroke-width="1.7"/>
<path d="M108.4 285.4L111.6 288.6M108.4 288.6L111.6 285.4" stroke="#fff" stroke-width="1.1"/>
<path d="M115.2 320.29999999999995L117.3 322.4L115.2 324.5L113.10000000000001 322.4Z" fill="#000"/>
<rect x="45.6" y="258.7" width="100" height="100.5" fill="none" stroke="#262626" stroke-width="1.6"/>
<path d="M95.6 358.7v-1.1" stroke="#262626" stroke-width="0.7" stroke-opacity="0.7"/>
<text x="45.6" y="372.4" class="k">0.6</text>
<text x="95.6" y="372.4" class="k">0.65</text>
<text x="145.6" y="372.4" class="k">0.7</text>
<text x="95.30000000000001" y="386.49999999999994" class="l">R (m)</text>
<text x="42.0" y="263.09999999999997" class="k e">-0.1</text>
<text x="42.0" y="313.09999999999997" class="k e">-0.15</text>
<text x="42.0" y="363.09999999999997" class="k e">-0.2</text>
<text transform="translate(9.6,308.5) rotate(-90)" class="l">Z (m)</text>
<text x="233.10000000000002" y="234.7" class="t">Frame 54201</text>
<text x="233.10000000000002" y="248.7" class="t">T<tspan dy="6" font-size="9.8">0</tspan><tspan dy="-6"> + 22.22 </tspan><tspan class="mu">μ</tspan><tspan dx="0.6">s</tspan></text>
<g>
<rect x="183.4" y="258.7" width="100" height="100.5" fill="#259ce7"/>
<g filter="url(#bl)" shape-rendering="crispEdges">
<rect x="184.4" y="323.8" width="4.5" height="3.0" fill="#463ee1"/>
<rect x="245.9" y="283.7" width="1.56" height="1.56" fill="#4743e7"/>
<rect x="247.46" y="283.7" width="3.13" height="1.56" fill="#463adc"/>
<rect x="250.59" y="283.7" width="1.56" height="1.56" fill="#4433cc"/>
<rect x="252.15" y="283.7" width="1.56" height="1.56" fill="#4743e7"/>
<rect x="253.71" y="283.7" width="4.69" height="1.56" fill="#484cef"/>
<rect x="258.4" y="283.7" width="4.69" height="1.56" fill="#463adc"/>
<rect x="263.09" y="283.7" width="3.12" height="1.56" fill="#484cef"/>
<rect x="245.9" y="285.26" width="4.69" height="1.56" fill="#4743e7"/>
<rect x="250.59" y="285.26" width="3.12" height="1.56" fill="#4433cc"/>
<rect x="253.71" y="285.26" width="1.57" height="1.56" fill="#412dbb"/>
<rect x="255.28" y="285.26" width="1.56" height="1.56" fill="#4433cc"/>
<rect x="256.84" y="285.26" width="4.68" height="1.56" fill="#3e26a8"/>
<rect x="261.52" y="285.26" width="1.57" height="1.56" fill="#4433cc"/>
<rect x="263.09" y="285.26" width="1.56" height="1.56" fill="#412dbb"/>
<rect x="264.65" y="285.26" width="1.56" height="1.56" fill="#4743e7"/>
<rect x="266.21" y="285.26" width="1.56" height="1.56" fill="#484cef"/>
<rect x="245.9" y="286.82" width="3.13" height="1.57" fill="#463adc"/>
<rect x="249.03" y="286.82" width="1.56" height="1.57" fill="#4743e7"/>
<rect x="250.59" y="286.82" width="4.69" height="1.57" fill="#412dbb"/>
<rect x="255.28" y="286.82" width="9.37" height="1.57" fill="#3e26a8"/>
<rect x="264.65" y="286.82" width="1.56" height="1.57" fill="#463adc"/>
<rect x="266.21" y="286.82" width="1.56" height="1.57" fill="#4743e7"/>
<rect x="250.59" y="288.39" width="1.56" height="1.56" fill="#484cef"/>
<rect x="252.15" y="288.39" width="14.06" height="1.56" fill="#3e26a8"/>
<rect x="266.21" y="288.39" width="1.56" height="1.56" fill="#4743e7"/>
<rect x="250.59" y="289.95" width="1.56" height="1.56" fill="#484cef"/>
<rect x="252.15" y="289.95" width="14.06" height="1.56" fill="#3e26a8"/>
<rect x="266.21" y="289.95" width="1.56" height="1.56" fill="#463adc"/>
<rect x="250.59" y="291.51" width="1.56" height="1.56" fill="#484cef"/>
<rect x="252.15" y="291.51" width="1.56" height="1.56" fill="#4433cc"/>
<rect x="253.71" y="291.51" width="12.5" height="1.56" fill="#3e26a8"/>
<rect x="266.21" y="291.51" width="1.56" height="1.56" fill="#4743e7"/>
<rect x="250.59" y="293.07" width="1.56" height="1.57" fill="#484cef"/>
<rect x="252.15" y="293.07" width="1.56" height="1.57" fill="#412dbb"/>
<rect x="253.71" y="293.07" width="12.5" height="1.57" fill="#3e26a8"/>
<rect x="266.21" y="293.07" width="1.56" height="1.57" fill="#4743e7"/>
<rect x="250.59" y="294.64" width="1.56" height="1.56" fill="#484cef"/>
<rect x="252.15" y="294.64" width="14.06" height="1.56" fill="#3e26a8"/>
<rect x="266.21" y="294.64" width="1.56" height="1.56" fill="#463adc"/>
<rect x="250.59" y="296.2" width="1.56" height="1.56" fill="#4743e7"/>
<rect x="252.15" y="296.2" width="14.06" height="1.56" fill="#3e26a8"/>
<rect x="266.21" y="296.2" width="1.56" height="1.56" fill="#4433cc"/>
<rect x="250.59" y="297.76" width="1.56" height="1.56" fill="#484cef"/>
<rect x="252.15" y="297.76" width="1.56" height="1.56" fill="#412dbb"/>
<rect x="253.71" y="297.76" width="12.5" height="1.56" fill="#3e26a8"/>
<rect x="266.21" y="297.76" width="1.56" height="1.56" fill="#463adc"/>
<rect x="250.59" y="299.32" width="1.56" height="1.57" fill="#484cef"/>
<rect x="252.15" y="299.32" width="1.56" height="1.57" fill="#412dbb"/>
<rect x="253.71" y="299.32" width="12.5" height="1.57" fill="#3e26a8"/>
<rect x="266.21" y="299.32" width="1.56" height="1.57" fill="#463adc"/>
<rect x="250.59" y="300.89" width="1.56" height="1.56" fill="#4743e7"/>
<rect x="252.15" y="300.89" width="12.5" height="1.56" fill="#3e26a8"/>
<rect x="264.65" y="300.89" width="1.56" height="1.56" fill="#412dbb"/>
<rect x="266.21" y="300.89" width="1.56" height="1.56" fill="#4433cc"/>
<rect x="249.03" y="302.45" width="1.56" height="1.56" fill="#484cef"/>
<rect x="250.59" y="302.45" width="1.56" height="1.56" fill="#412dbb"/>
<rect x="252.15" y="302.45" width="14.06" height="1.56" fill="#3e26a8"/>
<rect x="266.21" y="302.45" width="1.56" height="1.56" fill="#4743e7"/>
<rect x="249.03" y="304.01" width="1.56" height="1.56" fill="#463adc"/>
<rect x="250.59" y="304.01" width="1.56" height="1.56" fill="#412dbb"/>
<rect x="252.15" y="304.01" width="12.5" height="1.56" fill="#3e26a8"/>
<rect x="264.65" y="304.01" width="1.56" height="1.56" fill="#412dbb"/>
<rect x="266.21" y="304.01" width="1.56" height="1.56" fill="#484cef"/>
<rect x="249.03" y="305.57" width="1.56" height="1.57" fill="#4743e7"/>
<rect x="250.59" y="305.57" width="7.81" height="1.57" fill="#3e26a8"/>
<rect x="258.4" y="305.57" width="1.56" height="1.57" fill="#412dbb"/>
<rect x="259.96" y="305.57" width="3.13" height="1.57" fill="#4433cc"/>
<rect x="263.09" y="305.57" width="1.56" height="1.57" fill="#463adc"/>
<rect x="264.65" y="305.57" width="1.56" height="1.57" fill="#4743e7"/>
<rect x="249.03" y="307.14" width="1.56" height="1.56" fill="#4743e7"/>
<rect x="250.59" y="307.14" width="7.81" height="1.56" fill="#3e26a8"/>
<rect x="258.4" y="307.14" width="1.56" height="1.56" fill="#4433cc"/>
<rect x="259.96" y="307.14" width="4.69" height="1.56" fill="#484cef"/>
<rect x="249.03" y="308.7" width="1.56" height="1.56" fill="#484cef"/>
<rect x="250.59" y="308.7" width="1.56" height="1.56" fill="#463adc"/>
<rect x="252.15" y="308.7" width="1.56" height="1.56" fill="#4433cc"/>
<rect x="253.71" y="308.7" width="1.57" height="1.56" fill="#412dbb"/>
<rect x="255.28" y="308.7" width="1.56" height="1.56" fill="#3e26a8"/>
<rect x="256.84" y="308.7" width="1.56" height="1.56" fill="#412dbb"/>
<rect x="258.4" y="308.7" width="1.56" height="1.56" fill="#484cef"/>
<rect x="252.15" y="310.26" width="1.56" height="1.56" fill="#4743e7"/>
<rect x="253.71" y="310.26" width="3.13" height="1.56" fill="#484cef"/>
<rect x="205.7" y="282.7" width="2.4" height="10.4" fill="#48cb86"/>
<rect x="248.8" y="321.4" width="2.3" height="2.8" fill="#48cb86"/>
<rect x="246" y="324.2" width="5.1" height="2.6" fill="#48cb86"/>
<rect x="234.1" y="336.9" width="4.7" height="2.6" fill="#48cb86"/>
<rect x="203.2" y="285.8" width="2.5" height="7.3" fill="#88cb53"/>
<rect x="200.9" y="288.1" width="4.8" height="5.0" fill="#88cb53"/>
</g>
</g>
<path d="M270.44 258.50 L268.47 262.38 L266.43 266.25 L264.34 270.13 L262.18 274.01 L259.97 277.88 L257.70 281.76 L255.37 285.64 L252.98 289.52 L250.54 293.39 L248.03 297.27 L245.46 301.15 L242.84 305.02 L240.16 308.90 L237.41 312.78 L234.61 316.65 L231.75 320.53 L228.83 324.41 L225.86 328.28 L222.82 332.16 L219.72 336.04 L216.57 339.92 L213.36 343.79 L210.08 347.67 L206.75 351.55 L203.36 355.42 L199.91 359.30" fill="none" stroke="#ff0000" stroke-width="1.7"/>
<path d="M254.6 294.59999999999997L257.8 297.8M254.6 297.8L257.8 294.59999999999997" stroke="#fff" stroke-width="1.1"/>
<rect x="183.4" y="258.7" width="100" height="100.5" fill="none" stroke="#262626" stroke-width="1.6"/>
<path d="M233.4 358.7v-1.1" stroke="#262626" stroke-width="0.7" stroke-opacity="0.7"/>
<text x="183.4" y="372.4" class="k">0.6</text>
<text x="233.4" y="372.4" class="k">0.65</text>
<text x="283.4" y="372.4" class="k">0.7</text>
<text x="233.10000000000002" y="386.49999999999994" class="l">R (m)</text>
<text x="370.9" y="234.7" class="t">Frame 54202</text>
<text x="370.9" y="248.7" class="t">T<tspan dy="6" font-size="9.8">0</tspan><tspan dy="-6"> + 25.93 </tspan><tspan class="mu">μ</tspan><tspan dx="0.6">s</tspan></text>
<g>
<rect x="321.2" y="258.7" width="100" height="100.5" fill="#259ce7"/>
<g filter="url(#bl)" shape-rendering="crispEdges">
<rect x="396.2" y="283.7" width="6.25" height="1.56" fill="#4433cc"/>
<rect x="402.45" y="283.7" width="1.56" height="1.56" fill="#412dbb"/>
<rect x="394.64" y="285.26" width="1.56" height="1.56" fill="#463adc"/>
<rect x="396.2" y="285.26" width="1.56" height="1.56" fill="#4433cc"/>
<rect x="397.76" y="285.26" width="4.69" height="1.56" fill="#3e26a8"/>
<rect x="402.45" y="285.26" width="1.56" height="1.56" fill="#463adc"/>
<rect x="394.64" y="286.82" width="1.56" height="1.57" fill="#463adc"/>
<rect x="396.2" y="286.82" width="6.25" height="1.57" fill="#3e26a8"/>
<rect x="402.45" y="286.82" width="1.56" height="1.57" fill="#4433cc"/>
<rect x="404.01" y="286.82" width="1.56" height="1.57" fill="#463adc"/>
<rect x="393.07" y="288.39" width="3.13" height="1.56" fill="#463adc"/>
<rect x="396.2" y="288.39" width="6.25" height="1.56" fill="#3e26a8"/>
<rect x="402.45" y="288.39" width="1.56" height="1.56" fill="#412dbb"/>
<rect x="404.01" y="288.39" width="1.56" height="1.56" fill="#4743e7"/>
<rect x="393.07" y="289.95" width="1.57" height="1.56" fill="#4743e7"/>
<rect x="394.64" y="289.95" width="1.56" height="1.56" fill="#4433cc"/>
<rect x="396.2" y="289.95" width="6.25" height="1.56" fill="#3e26a8"/>
<rect x="402.45" y="289.95" width="3.12" height="1.56" fill="#4433cc"/>
<rect x="391.51" y="291.51" width="1.56" height="1.56" fill="#463adc"/>
<rect x="393.07" y="291.51" width="1.57" height="1.56" fill="#4433cc"/>
<rect x="394.64" y="291.51" width="1.56" height="1.56" fill="#463adc"/>
<rect x="396.2" y="291.51" width="7.81" height="1.56" fill="#3e26a8"/>
<rect x="404.01" y="291.51" width="1.56" height="1.56" fill="#4433cc"/>
<rect x="391.51" y="293.07" width="3.13" height="1.57" fill="#463adc"/>
<rect x="394.64" y="293.07" width="3.12" height="1.57" fill="#4433cc"/>
<rect x="397.76" y="293.07" width="4.69" height="1.57" fill="#3e26a8"/>
<rect x="402.45" y="293.07" width="1.56" height="1.57" fill="#463adc"/>
<rect x="404.01" y="293.07" width="1.56" height="1.57" fill="#4743e7"/>
<rect x="389.95" y="294.64" width="1.56" height="1.56" fill="#463adc"/>
<rect x="391.51" y="294.64" width="1.56" height="1.56" fill="#412dbb"/>
<rect x="393.07" y="294.64" width="3.13" height="1.56" fill="#463adc"/>
<rect x="396.2" y="294.64" width="1.56" height="1.56" fill="#412dbb"/>
<rect x="397.76" y="294.64" width="3.13" height="1.56" fill="#3e26a8"/>
<rect x="400.89" y="294.64" width="1.56" height="1.56" fill="#412dbb"/>
<rect x="402.45" y="294.64" width="1.56" height="1.56" fill="#463adc"/>
<rect x="404.01" y="294.64" width="1.56" height="1.56" fill="#4433cc"/>
<rect x="389.95" y="296.2" width="4.69" height="1.56" fill="#4433cc"/>
<rect x="394.64" y="296.2" width="1.56" height="1.56" fill="#463adc"/>
<rect x="396.2" y="296.2" width="1.56" height="1.56" fill="#484cef"/>
<rect x="397.76" y="296.2" width="4.69" height="1.56" fill="#4433cc"/>
<rect x="402.45" y="296.2" width="3.12" height="1.56" fill="#4743e7"/>
<rect x="388.39" y="297.76" width="1.56" height="1.56" fill="#4433cc"/>
<rect x="389.95" y="297.76" width="1.56" height="1.56" fill="#4743e7"/>
<rect x="391.51" y="297.76" width="6.25" height="1.56" fill="#4433cc"/>
<rect x="397.76" y="297.76" width="1.56" height="1.56" fill="#463adc"/>
<rect x="399.32" y="297.76" width="1.57" height="1.56" fill="#4433cc"/>
<rect x="400.89" y="297.76" width="1.56" height="1.56" fill="#4743e7"/>
<rect x="402.45" y="297.76" width="1.56" height="1.56" fill="#463adc"/>
<rect x="404.01" y="297.76" width="1.56" height="1.56" fill="#4433cc"/>
<rect x="386.82" y="299.32" width="1.57" height="1.57" fill="#463adc"/>
<rect x="388.39" y="299.32" width="1.56" height="1.57" fill="#4743e7"/>
<rect x="389.95" y="299.32" width="1.56" height="1.57" fill="#463adc"/>
<rect x="391.51" y="299.32" width="1.56" height="1.57" fill="#4433cc"/>
<rect x="393.07" y="299.32" width="1.57" height="1.57" fill="#463adc"/>
<rect x="394.64" y="299.32" width="1.56" height="1.57" fill="#4433cc"/>
<rect x="396.2" y="299.32" width="4.69" height="1.57" fill="#463adc"/>
<rect x="400.89" y="299.32" width="3.12" height="1.57" fill="#4433cc"/>
<rect x="386.82" y="300.89" width="7.82" height="1.56" fill="#463adc"/>
<rect x="394.64" y="300.89" width="3.12" height="1.56" fill="#4433cc"/>
<rect x="397.76" y="300.89" width="1.56" height="1.56" fill="#463adc"/>
<rect x="399.32" y="300.89" width="1.57" height="1.56" fill="#412dbb"/>
<rect x="400.89" y="300.89" width="1.56" height="1.56" fill="#4743e7"/>
<rect x="402.45" y="300.89" width="1.56" height="1.56" fill="#463adc"/>
<rect x="385.26" y="302.45" width="1.56" height="1.56" fill="#463adc"/>
<rect x="386.82" y="302.45" width="1.57" height="1.56" fill="#4433cc"/>
<rect x="388.39" y="302.45" width="1.56" height="1.56" fill="#4743e7"/>
<rect x="389.95" y="302.45" width="7.81" height="1.56" fill="#463adc"/>
<rect x="397.76" y="302.45" width="1.56" height="1.56" fill="#4433cc"/>
<rect x="399.32" y="302.45" width="1.57" height="1.56" fill="#4743e7"/>
<rect x="400.89" y="302.45" width="1.56" height="1.56" fill="#463adc"/>
<rect x="402.45" y="302.45" width="1.56" height="1.56" fill="#4743e7"/>
<rect x="385.26" y="304.01" width="1.56" height="1.56" fill="#4743e7"/>
<rect x="386.82" y="304.01" width="1.57" height="1.56" fill="#4433cc"/>
<rect x="388.39" y="304.01" width="1.56" height="1.56" fill="#463adc"/>
<rect x="389.95" y="304.01" width="1.56" height="1.56" fill="#4433cc"/>
<rect x="391.51" y="304.01" width="4.69" height="1.56" fill="#463adc"/>
<rect x="396.2" y="304.01" width="3.12" height="1.56" fill="#4433cc"/>
<rect x="399.32" y="304.01" width="3.13" height="1.56" fill="#463adc"/>
<rect x="383.7" y="305.57" width="1.56" height="1.57" fill="#463adc"/>
<rect x="385.26" y="305.57" width="1.56" height="1.57" fill="#4743e7"/>
<rect x="386.82" y="305.57" width="1.57" height="1.57" fill="#463adc"/>
<rect x="388.39" y="305.57" width="3.12" height="1.57" fill="#4743e7"/>
<rect x="391.51" y="305.57" width="1.56" height="1.57" fill="#463adc"/>
<rect x="393.07" y="305.57" width="3.13" height="1.57" fill="#4433cc"/>
<rect x="396.2" y="305.57" width="1.56" height="1.57" fill="#463adc"/>
<rect x="397.76" y="305.57" width="3.13" height="1.57" fill="#4743e7"/>
<rect x="400.89" y="305.57" width="1.56" height="1.57" fill="#4433cc"/>
<rect x="383.7" y="307.14" width="1.56" height="1.56" fill="#412dbb"/>
<rect x="385.26" y="307.14" width="1.56" height="1.56" fill="#4743e7"/>
<rect x="386.82" y="307.14" width="3.13" height="1.56" fill="#4433cc"/>
<rect x="389.95" y="307.14" width="1.56" height="1.56" fill="#463adc"/>
<rect x="393.07" y="307.14" width="3.13" height="1.56" fill="#463adc"/>
<rect x="396.2" y="307.14" width="1.56" height="1.56" fill="#4433cc"/>
<rect x="397.76" y="307.14" width="1.56" height="1.56" fill="#4743e7"/>
<rect x="399.32" y="307.14" width="1.57" height="1.56" fill="#463adc"/>
<rect x="383.7" y="308.7" width="4.69" height="1.56" fill="#463adc"/>
<rect x="388.39" y="308.7" width="1.56" height="1.56" fill="#4433cc"/>
<rect x="389.95" y="308.7" width="1.56" height="1.56" fill="#463adc"/>
<rect x="393.07" y="308.7" width="1.57" height="1.56" fill="#463adc"/>
<rect x="394.64" y="308.7" width="1.56" height="1.56" fill="#4743e7"/>
<rect x="396.2" y="308.7" width="1.56" height="1.56" fill="#4433cc"/>
<rect x="397.76" y="308.7" width="1.56" height="1.56" fill="#4743e7"/>
<rect x="399.32" y="308.7" width="1.57" height="1.56" fill="#463adc"/>
<rect x="383.7" y="310.26" width="1.56" height="1.56" fill="#463adc"/>
<rect x="385.26" y="310.26" width="1.56" height="1.56" fill="#412dbb"/>
<rect x="386.82" y="310.26" width="1.57" height="1.56" fill="#4743e7"/>
<rect x="383.7" y="311.82" width="3.12" height="1.57" fill="#4743e7"/>
<rect x="386.82" y="311.82" width="1.57" height="1.57" fill="#4433cc"/>
<rect x="339" y="290.9" width="2.3" height="2.9" fill="#48cb86"/>
<rect x="336.2" y="293.2" width="5.1" height="2.6" fill="#48cb86"/>
</g>
</g>
<path d="M408.24 258.50 L406.27 262.38 L404.23 266.25 L402.14 270.13 L399.98 274.01 L397.77 277.88 L395.50 281.76 L393.17 285.64 L390.78 289.52 L388.34 293.39 L385.83 297.27 L383.26 301.15 L380.64 305.02 L377.96 308.90 L375.21 312.78 L372.41 316.65 L369.55 320.53 L366.63 324.41 L363.66 328.28 L360.62 332.16 L357.52 336.04 L354.37 339.92 L351.16 343.79 L347.88 347.67 L344.55 351.55 L341.16 355.42 L337.71 359.30" fill="none" stroke="#ff0000" stroke-width="1.7"/>
<path d="M393.5 294.59999999999997L396.70000000000005 297.8M393.5 297.8L396.70000000000005 294.59999999999997" stroke="#fff" stroke-width="1.1"/>
<rect x="321.2" y="258.7" width="100" height="100.5" fill="none" stroke="#262626" stroke-width="1.6"/>
<path d="M371.2 358.7v-1.1" stroke="#262626" stroke-width="0.7" stroke-opacity="0.7"/>
<text x="321.2" y="372.4" class="k">0.6</text>
<text x="371.2" y="372.4" class="k">0.65</text>
<text x="421.2" y="372.4" class="k">0.7</text>
<text x="370.9" y="386.49999999999994" class="l">R (m)</text>
<text x="508.7" y="234.7" class="t">Frame 54203</text>
<text x="508.7" y="248.7" class="t">T<tspan dy="6" font-size="9.8">0</tspan><tspan dy="-6"> + 29.63 </tspan><tspan class="mu">μ</tspan><tspan dx="0.6">s</tspan></text>
<g>
<rect x="459.0" y="258.7" width="100" height="100.5" fill="#259ce7"/>
<g filter="url(#bl)" shape-rendering="crispEdges">
<rect x="544.94" y="288.39" width="1.56" height="1.56" fill="#463adc"/>
<rect x="546.5" y="288.39" width="3.12" height="1.56" fill="#4743e7"/>
<rect x="541.81" y="289.95" width="1.57" height="1.56" fill="#463adc"/>
<rect x="543.38" y="289.95" width="3.12" height="1.56" fill="#4743e7"/>
<rect x="546.5" y="289.95" width="1.56" height="1.56" fill="#4433cc"/>
<rect x="548.06" y="289.95" width="1.56" height="1.56" fill="#463adc"/>
<rect x="538.69" y="291.51" width="3.12" height="1.56" fill="#4433cc"/>
<rect x="541.81" y="291.51" width="1.57" height="1.56" fill="#463adc"/>
<rect x="543.38" y="291.51" width="1.56" height="1.56" fill="#4743e7"/>
<rect x="544.94" y="291.51" width="4.68" height="1.56" fill="#463adc"/>
<rect x="534.0" y="293.07" width="1.56" height="1.57" fill="#463adc"/>
<rect x="535.56" y="293.07" width="1.56" height="1.57" fill="#4433cc"/>
<rect x="537.12" y="293.07" width="4.69" height="1.57" fill="#4743e7"/>
<rect x="541.81" y="293.07" width="1.57" height="1.57" fill="#463adc"/>
<rect x="543.38" y="293.07" width="3.12" height="1.57" fill="#4743e7"/>
<rect x="546.5" y="293.07" width="1.56" height="1.57" fill="#463adc"/>
<rect x="548.06" y="293.07" width="1.56" height="1.57" fill="#4743e7"/>
<rect x="532.44" y="294.64" width="3.12" height="1.56" fill="#463adc"/>
<rect x="535.56" y="294.64" width="1.56" height="1.56" fill="#4743e7"/>
<rect x="537.12" y="294.64" width="1.57" height="1.56" fill="#4433cc"/>
<rect x="538.69" y="294.64" width="1.56" height="1.56" fill="#4743e7"/>
<rect x="540.25" y="294.64" width="1.56" height="1.56" fill="#463adc"/>
<rect x="541.81" y="294.64" width="4.69" height="1.56" fill="#4433cc"/>
<rect x="546.5" y="294.64" width="1.56" height="1.56" fill="#463adc"/>
<rect x="529.31" y="296.2" width="6.25" height="1.56" fill="#463adc"/>
<rect x="535.56" y="296.2" width="3.13" height="1.56" fill="#4743e7"/>
<rect x="538.69" y="296.2" width="1.56" height="1.56" fill="#463adc"/>
<rect x="540.25" y="296.2" width="3.13" height="1.56" fill="#3e26a8"/>
<rect x="543.38" y="296.2" width="1.56" height="1.56" fill="#4433cc"/>
<rect x="544.94" y="296.2" width="1.56" height="1.56" fill="#463adc"/>
<rect x="527.75" y="297.76" width="3.13" height="1.56" fill="#463adc"/>
<rect x="530.88" y="297.76" width="1.56" height="1.56" fill="#4433cc"/>
<rect x="532.44" y="297.76" width="1.56" height="1.56" fill="#4743e7"/>
<rect x="534.0" y="297.76" width="1.56" height="1.56" fill="#463adc"/>
<rect x="535.56" y="297.76" width="1.56" height="1.56" fill="#4433cc"/>
<rect x="537.12" y="297.76" width="4.69" height="1.56" fill="#463adc"/>
<rect x="541.81" y="297.76" width="1.57" height="1.56" fill="#4433cc"/>
<rect x="543.38" y="297.76" width="1.56" height="1.56" fill="#463adc"/>
<rect x="526.19" y="299.32" width="1.56" height="1.57" fill="#4433cc"/>
<rect x="527.75" y="299.32" width="1.56" height="1.57" fill="#463adc"/>
<rect x="529.31" y="299.32" width="1.57" height="1.57" fill="#4433cc"/>
<rect x="530.88" y="299.32" width="4.68" height="1.57" fill="#463adc"/>
<rect x="535.56" y="299.32" width="1.56" height="1.57" fill="#4743e7"/>
<rect x="537.12" y="299.32" width="4.69" height="1.57" fill="#463adc"/>
<rect x="541.81" y="299.32" width="1.57" height="1.57" fill="#4433cc"/>
<rect x="543.38" y="299.32" width="1.56" height="1.57" fill="#484cef"/>
<rect x="512.12" y="300.89" width="4.69" height="1.56" fill="#484cef"/>
<rect x="524.62" y="300.89" width="1.57" height="1.56" fill="#4743e7"/>
<rect x="526.19" y="300.89" width="3.12" height="1.56" fill="#412dbb"/>
<rect x="529.31" y="300.89" width="1.57" height="1.56" fill="#4433cc"/>
<rect x="530.88" y="300.89" width="1.56" height="1.56" fill="#463adc"/>
<rect x="532.44" y="300.89" width="1.56" height="1.56" fill="#4433cc"/>
<rect x="534.0" y="300.89" width="1.56" height="1.56" fill="#4743e7"/>
<rect x="535.56" y="300.89" width="1.56" height="1.56" fill="#4433cc"/>
<rect x="537.12" y="300.89" width="4.69" height="1.56" fill="#463adc"/>
<rect x="541.81" y="300.89" width="1.57" height="1.56" fill="#4743e7"/>
<rect x="512.12" y="302.45" width="1.57" height="1.56" fill="#4743e7"/>
<rect x="513.69" y="302.45" width="3.12" height="1.56" fill="#484cef"/>
<rect x="523.06" y="302.45" width="1.56" height="1.56" fill="#412dbb"/>
<rect x="524.62" y="302.45" width="1.57" height="1.56" fill="#463adc"/>
<rect x="526.19" y="302.45" width="3.12" height="1.56" fill="#412dbb"/>
<rect x="529.31" y="302.45" width="1.57" height="1.56" fill="#463adc"/>
<rect x="530.88" y="302.45" width="1.56" height="1.56" fill="#4433cc"/>
<rect x="532.44" y="302.45" width="3.12" height="1.56" fill="#463adc"/>
<rect x="535.56" y="302.45" width="1.56" height="1.56" fill="#4743e7"/>
<rect x="537.12" y="302.45" width="1.57" height="1.56" fill="#4433cc"/>
<rect x="538.69" y="302.45" width="1.56" height="1.56" fill="#4743e7"/>
<rect x="540.25" y="302.45" width="1.56" height="1.56" fill="#463adc"/>
<rect x="512.12" y="304.01" width="1.57" height="1.56" fill="#463adc"/>
<rect x="513.69" y="304.01" width="1.56" height="1.56" fill="#4743e7"/>
<rect x="515.25" y="304.01" width="1.56" height="1.56" fill="#4433cc"/>
<rect x="516.81" y="304.01" width="3.13" height="1.56" fill="#484cef"/>
<rect x="521.5" y="304.01" width="1.56" height="1.56" fill="#4433cc"/>
<rect x="523.06" y="304.01" width="1.56" height="1.56" fill="#4743e7"/>
<rect x="524.62" y="304.01" width="1.57" height="1.56" fill="#463adc"/>
<rect x="526.19" y="304.01" width="1.56" height="1.56" fill="#4433cc"/>
<rect x="527.75" y="304.01" width="1.56" height="1.56" fill="#463adc"/>
<rect x="529.31" y="304.01" width="6.25" height="1.56" fill="#4433cc"/>
<rect x="535.56" y="304.01" width="1.56" height="1.56" fill="#463adc"/>
<rect x="537.12" y="304.01" width="1.57" height="1.56" fill="#4433cc"/>
<rect x="538.69" y="304.01" width="1.56" height="1.56" fill="#463adc"/>
<rect x="540.25" y="304.01" width="1.56" height="1.56" fill="#4743e7"/>
<rect x="512.12" y="305.57" width="1.57" height="1.57" fill="#4743e7"/>
<rect x="513.69" y="305.57" width="3.12" height="1.57" fill="#4433cc"/>
<rect x="516.81" y="305.57" width="1.57" height="1.57" fill="#463adc"/>
<rect x="518.38" y="305.57" width="1.56" height="1.57" fill="#484cef"/>
<rect x="519.94" y="305.57" width="1.56" height="1.57" fill="#412dbb"/>
<rect x="521.5" y="305.57" width="1.56" height="1.57" fill="#4433cc"/>
<rect x="523.06" y="305.57" width="1.56" height="1.57" fill="#412dbb"/>
<rect x="524.62" y="305.57" width="1.57" height="1.57" fill="#4433cc"/>
<rect x="526.19" y="305.57" width="1.56" height="1.57" fill="#463adc"/>
<rect x="527.75" y="305.57" width="1.56" height="1.57" fill="#4433cc"/>
<rect x="529.31" y="305.57" width="1.57" height="1.57" fill="#463adc"/>
<rect x="530.88" y="305.57" width="1.56" height="1.57" fill="#4743e7"/>
<rect x="532.44" y="305.57" width="1.56" height="1.57" fill="#463adc"/>
<rect x="534.0" y="305.57" width="1.56" height="1.57" fill="#4743e7"/>
<rect x="535.56" y="305.57" width="3.13" height="1.57" fill="#463adc"/>
<rect x="538.69" y="305.57" width="1.56" height="1.57" fill="#4433cc"/>
<rect x="515.25" y="307.14" width="1.56" height="1.56" fill="#484cef"/>
<rect x="518.38" y="307.14" width="1.56" height="1.56" fill="#4433cc"/>
<rect x="519.94" y="307.14" width="1.56" height="1.56" fill="#4743e7"/>
<rect x="521.5" y="307.14" width="1.56" height="1.56" fill="#4433cc"/>
<rect x="523.06" y="307.14" width="1.56" height="1.56" fill="#412dbb"/>
<rect x="524.62" y="307.14" width="1.57" height="1.56" fill="#3e26a8"/>
<rect x="526.19" y="307.14" width="1.56" height="1.56" fill="#4433cc"/>
<rect x="527.75" y="307.14" width="1.56" height="1.56" fill="#463adc"/>
<rect x="529.31" y="307.14" width="3.13" height="1.56" fill="#4433cc"/>
<rect x="532.44" y="307.14" width="1.56" height="1.56" fill="#4743e7"/>
<rect x="534.0" y="307.14" width="1.56" height="1.56" fill="#4433cc"/>
<rect x="535.56" y="307.14" width="1.56" height="1.56" fill="#4743e7"/>
<rect x="537.12" y="307.14" width="1.57" height="1.56" fill="#463adc"/>
<rect x="518.38" y="308.7" width="1.56" height="1.56" fill="#484cef"/>
<rect x="519.94" y="308.7" width="1.56" height="1.56" fill="#4743e7"/>
<rect x="521.5" y="308.7" width="1.56" height="1.56" fill="#4433cc"/>
<rect x="523.06" y="308.7" width="1.56" height="1.56" fill="#463adc"/>
<rect x="524.62" y="308.7" width="3.13" height="1.56" fill="#4433cc"/>
<rect x="527.75" y="308.7" width="1.56" height="1.56" fill="#4743e7"/>
<rect x="529.31" y="308.7" width="1.57" height="1.56" fill="#4433cc"/>
<rect x="530.88" y="308.7" width="3.12" height="1.56" fill="#4743e7"/>
<rect x="534.0" y="308.7" width="1.56" height="1.56" fill="#4433cc"/>
<rect x="535.56" y="308.7" width="1.56" height="1.56" fill="#463adc"/>
<rect x="537.12" y="308.7" width="1.57" height="1.56" fill="#412dbb"/>
<rect x="518.38" y="310.26" width="1.56" height="1.56" fill="#4433cc"/>
<rect x="519.94" y="310.26" width="3.12" height="1.56" fill="#463adc"/>
<rect x="523.06" y="310.26" width="1.56" height="1.56" fill="#4743e7"/>
<rect x="524.62" y="310.26" width="1.57" height="1.56" fill="#463adc"/>
<rect x="526.19" y="310.26" width="1.56" height="1.56" fill="#4743e7"/>
<rect x="527.75" y="310.26" width="1.56" height="1.56" fill="#463adc"/>
<rect x="529.31" y="310.26" width="1.57" height="1.56" fill="#412dbb"/>
<rect x="530.88" y="310.26" width="6.24" height="1.56" fill="#463adc"/>
<rect x="521.5" y="311.82" width="1.56" height="1.57" fill="#463adc"/>
<rect x="523.06" y="311.82" width="3.13" height="1.57" fill="#4743e7"/>
<rect x="526.19" y="311.82" width="1.56" height="1.57" fill="#463adc"/>
<rect x="527.75" y="311.82" width="1.56" height="1.57" fill="#4433cc"/>
<rect x="529.31" y="311.82" width="1.57" height="1.57" fill="#3e26a8"/>
<rect x="530.88" y="311.82" width="1.56" height="1.57" fill="#463adc"/>
<rect x="532.44" y="311.82" width="1.56" height="1.57" fill="#4433cc"/>
<rect x="534.0" y="311.82" width="1.56" height="1.57" fill="#463adc"/>
<rect x="523.06" y="313.39" width="1.56" height="1.56" fill="#484cef"/>
<rect x="524.62" y="313.39" width="1.57" height="1.56" fill="#4433cc"/>
<rect x="526.19" y="313.39" width="3.12" height="1.56" fill="#463adc"/>
<rect x="529.31" y="313.39" width="1.57" height="1.56" fill="#412dbb"/>
<rect x="530.88" y="313.39" width="1.56" height="1.56" fill="#484cef"/>
<rect x="532.44" y="313.39" width="1.56" height="1.56" fill="#463adc"/>
<rect x="534.0" y="313.39" width="1.56" height="1.56" fill="#484cef"/>
<rect x="524.62" y="314.95" width="1.57" height="1.56" fill="#463adc"/>
<rect x="526.19" y="314.95" width="4.69" height="1.56" fill="#4433cc"/>
<rect x="530.88" y="314.95" width="1.56" height="1.56" fill="#463adc"/>
<rect x="532.44" y="314.95" width="1.56" height="1.56" fill="#4433cc"/>
<rect x="524.62" y="316.51" width="3.13" height="1.56" fill="#463adc"/>
<rect x="527.75" y="316.51" width="1.56" height="1.56" fill="#4433cc"/>
<rect x="529.31" y="316.51" width="1.57" height="1.56" fill="#4743e7"/>
<rect x="530.88" y="316.51" width="3.12" height="1.56" fill="#4433cc"/>
<rect x="524.62" y="318.07" width="3.13" height="1.57" fill="#463adc"/>
<rect x="527.75" y="318.07" width="1.56" height="1.57" fill="#4433cc"/>
<rect x="529.31" y="318.07" width="3.13" height="1.57" fill="#463adc"/>
<rect x="524.62" y="319.64" width="1.57" height="1.56" fill="#4743e7"/>
<rect x="526.19" y="319.64" width="3.12" height="1.56" fill="#463adc"/>
<rect x="529.31" y="319.64" width="1.57" height="1.56" fill="#4743e7"/>
<rect x="530.88" y="319.64" width="1.56" height="1.56" fill="#463adc"/>
<rect x="524.62" y="321.2" width="1.57" height="1.56" fill="#463adc"/>
<rect x="526.19" y="321.2" width="1.56" height="1.56" fill="#4743e7"/>
<rect x="527.75" y="321.2" width="1.56" height="1.56" fill="#4433cc"/>
<rect x="529.31" y="321.2" width="1.57" height="1.56" fill="#463adc"/>
<rect x="524.62" y="322.76" width="3.13" height="1.56" fill="#463adc"/>
<rect x="527.75" y="322.76" width="1.56" height="1.56" fill="#4433cc"/>
</g>
</g>
<path d="M546.04 258.50 L544.07 262.38 L542.03 266.25 L539.94 270.13 L537.78 274.01 L535.57 277.88 L533.30 281.76 L530.97 285.64 L528.58 289.52 L526.14 293.39 L523.63 297.27 L521.06 301.15 L518.44 305.02 L515.76 308.90 L513.01 312.78 L510.21 316.65 L507.35 320.53 L504.43 324.41 L501.46 328.28 L498.42 332.16 L495.32 336.04 L492.17 339.92 L488.96 343.79 L485.68 347.67 L482.35 351.55 L478.96 355.42 L475.51 359.30" fill="none" stroke="#ff0000" stroke-width="1.7"/>
<path d="M532.6 301.9L535.8000000000001 305.1M532.6 305.1L535.8000000000001 301.9" stroke="#fff" stroke-width="1.1"/>
<rect x="459.0" y="258.7" width="100" height="100.5" fill="none" stroke="#262626" stroke-width="1.6"/>
<path d="M509.0 358.7v-1.1" stroke="#262626" stroke-width="0.7" stroke-opacity="0.7"/>
<text x="459.0" y="372.4" class="k">0.6</text>
<text x="509.0" y="372.4" class="k">0.65</text>
<text x="559.0" y="372.4" class="k">0.7</text>
<text x="508.7" y="386.49999999999994" class="l">R (m)</text>
<text x="646.5" y="234.7" class="t">Frame 54204</text>
<text x="646.5" y="248.7" class="t">T<tspan dy="6" font-size="9.8">0</tspan><tspan dy="-6"> + 33.33 </tspan><tspan class="mu">μ</tspan><tspan dx="0.6">s</tspan></text>
<g>
<rect x="596.8" y="258.7" width="100" height="100.5" fill="#259ce7"/>
<g filter="url(#bl)" shape-rendering="crispEdges">
<rect x="681.2" y="293.2" width="4.6" height="3.3" fill="#463ee1"/>
<rect x="679.7" y="295.4" width="4.6" height="3.1" fill="#463ee1"/>
<rect x="676.1" y="303.1" width="3.1" height="2.6" fill="#4747eb"/>
<rect x="671.5" y="306.2" width="2.5" height="3.1" fill="#463ee1"/>
<rect x="669.4" y="308.3" width="3.6" height="3.6" fill="#463ee1"/>
<rect x="669.4" y="311.4" width="2.1" height="2.0" fill="#463ee1"/>
<rect x="617.3" y="288" width="2.1" height="3" fill="#4747eb"/>
<rect x="615" y="290.4" width="4.4" height="2.5" fill="#4747eb"/>
<rect x="602.9" y="305.6" width="2.3" height="2.5" fill="#4747eb"/>
</g>
</g>
<path d="M683.84 258.50 L681.87 262.38 L679.83 266.25 L677.74 270.13 L675.58 274.01 L673.37 277.88 L671.10 281.76 L668.77 285.64 L666.38 289.52 L663.94 293.39 L661.43 297.27 L658.86 301.15 L656.24 305.02 L653.56 308.90 L650.81 312.78 L648.01 316.65 L645.15 320.53 L642.23 324.41 L639.26 328.28 L636.22 332.16 L633.12 336.04 L629.97 339.92 L626.76 343.79 L623.48 347.67 L620.15 351.55 L616.76 355.42 L613.31 359.30" fill="none" stroke="#ff0000" stroke-width="1.7"/>
<path d="M677.3 296.7L680.5 299.90000000000003M677.3 299.90000000000003L680.5 296.7" stroke="#fff" stroke-width="1.1"/>
<rect x="674.7" y="301.8" width="8" height="8" fill="none" stroke="#ff00ff" stroke-width="1.7"/>
<rect x="596.8" y="258.7" width="100" height="100.5" fill="none" stroke="#262626" stroke-width="1.6"/>
<path d="M646.8 358.7v-1.1" stroke="#262626" stroke-width="0.7" stroke-opacity="0.7"/>
<text x="596.8" y="372.4" class="k">0.6</text>
<text x="646.8" y="372.4" class="k">0.65</text>
<text x="696.8" y="372.4" class="k">0.7</text>
<text x="646.5" y="386.49999999999994" class="l">R (m)</text>
<rect x="44.7" y="194" width="651.1999999999999" height="10" fill="url(#cb)" stroke="#262626" stroke-opacity="0.6" stroke-width="0.7"/>
<text x="44.70" y="187.8" class="c">-7</text>
<path d="M77.26 194v6.5" stroke="#262626" stroke-opacity="0.6" stroke-width="0.7"/>
<text x="77.26" y="187.8" class="c">-6</text>
<path d="M142.38 194v6.5" stroke="#262626" stroke-opacity="0.6" stroke-width="0.7"/>
<text x="142.38" y="187.8" class="c">-4</text>
<path d="M207.50 194v6.5" stroke="#262626" stroke-opacity="0.6" stroke-width="0.7"/>
<text x="207.50" y="187.8" class="c">-2</text>
<path d="M272.62 194v6.5" stroke="#262626" stroke-opacity="0.6" stroke-width="0.7"/>
<text x="272.62" y="187.8" class="c">0</text>
<path d="M337.74 194v6.5" stroke="#262626" stroke-opacity="0.6" stroke-width="0.7"/>
<text x="337.74" y="187.8" class="c">2</text>
<path d="M402.86 194v6.5" stroke="#262626" stroke-opacity="0.6" stroke-width="0.7"/>
<text x="402.86" y="187.8" class="c">4</text>
<path d="M467.98 194v6.5" stroke="#262626" stroke-opacity="0.6" stroke-width="0.7"/>
<text x="467.98" y="187.8" class="c">6</text>
<path d="M533.10 194v6.5" stroke="#262626" stroke-opacity="0.6" stroke-width="0.7"/>
<text x="533.10" y="187.8" class="c">8</text>
<path d="M598.22 194v6.5" stroke="#262626" stroke-opacity="0.6" stroke-width="0.7"/>
<text x="598.22" y="187.8" class="c">10</text>
<path d="M663.34 194v6.5" stroke="#262626" stroke-opacity="0.6" stroke-width="0.7"/>
<text x="663.34" y="187.8" class="c">12</text>
<text x="695.90" y="187.8" class="c">13</text>
</svg>
</body></html>
